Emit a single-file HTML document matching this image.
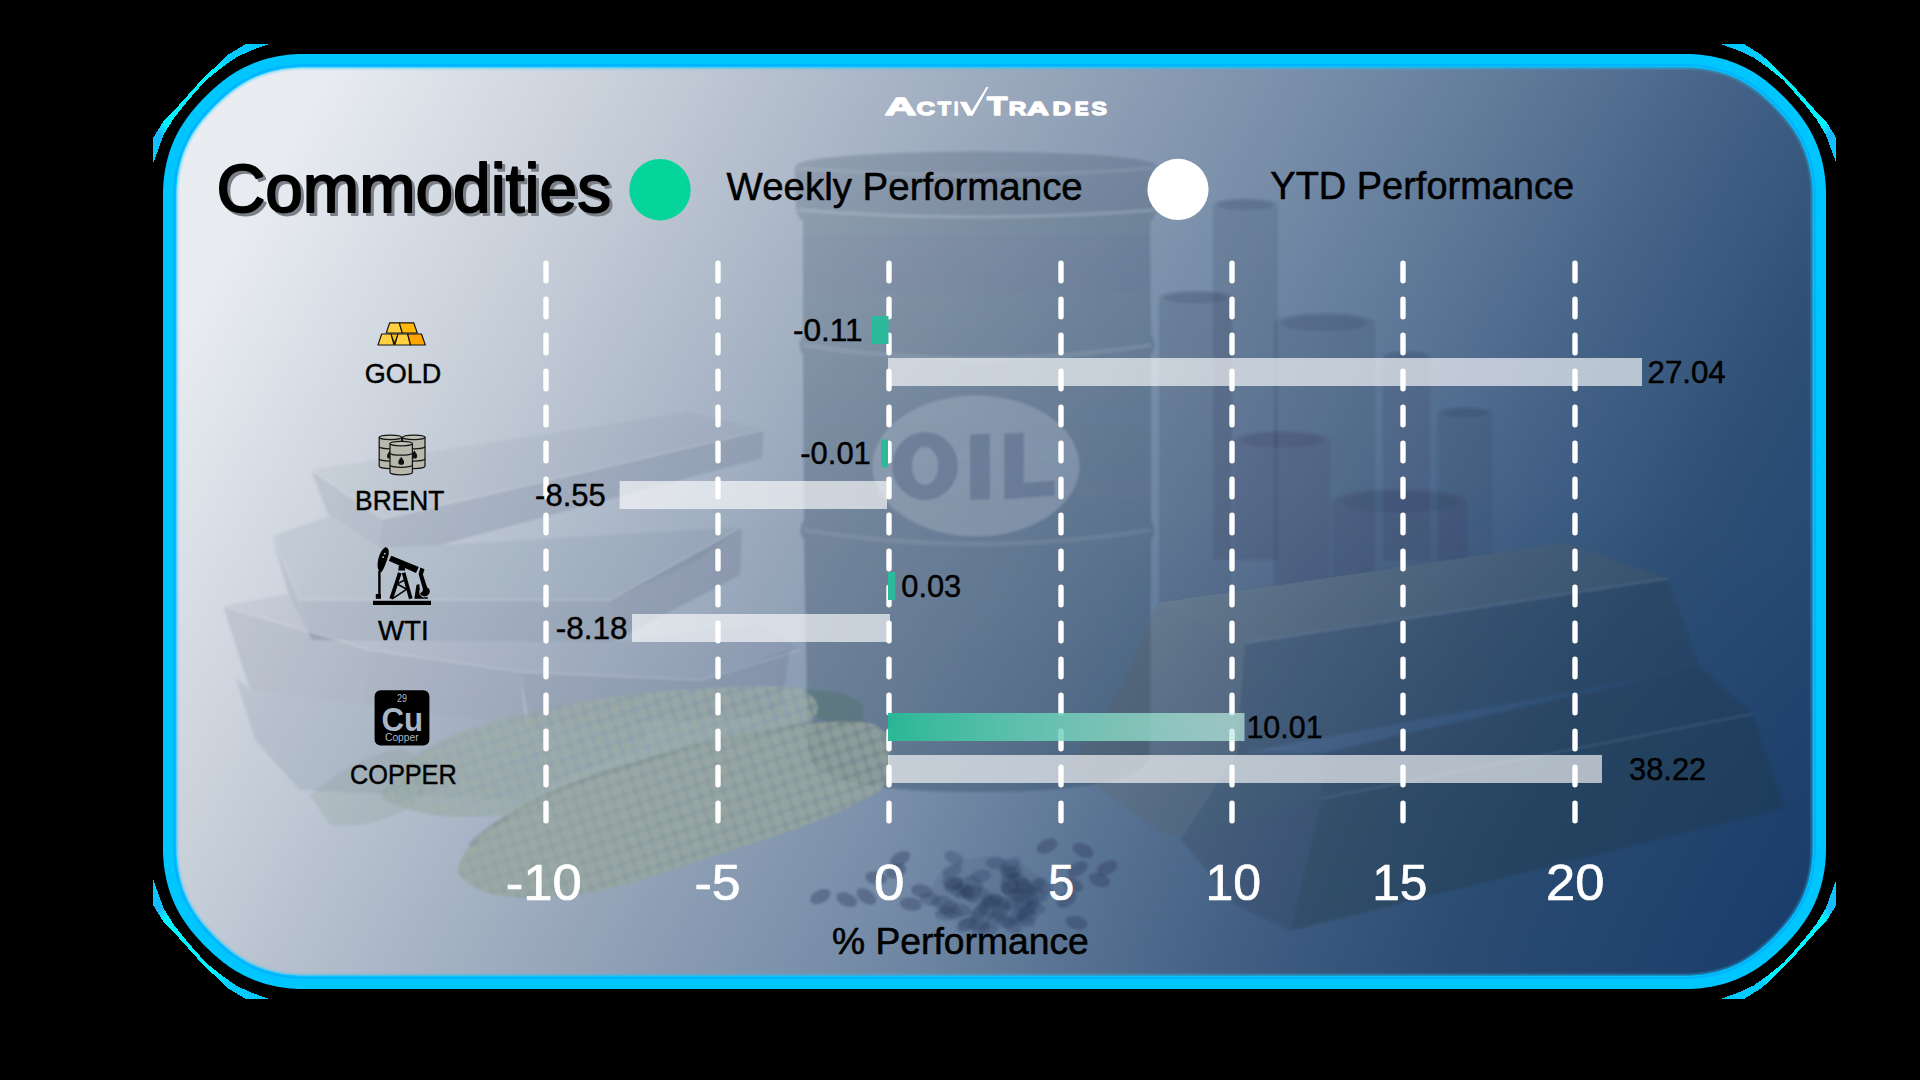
<!DOCTYPE html>
<html><head><meta charset="utf-8"><title>Commodities</title>
<style>
html,body{margin:0;padding:0;background:#000;}
body{width:1920px;height:1080px;overflow:hidden;font-family:"Liberation Sans",sans-serif;}
svg{display:block;position:absolute;left:0;top:0;}
text{font-family:"Liberation Sans",sans-serif;}
</style></head><body>
<svg width="1920" height="1080" viewBox="0 0 1920 1080">
<defs>
<linearGradient id="bg" gradientUnits="userSpaceOnUse" x1="200" y1="90" x2="1812.2" y2="976.7">
<stop offset="0" stop-color="#e9edf2"/>
<stop offset="0.057" stop-color="#e8ecf1"/>
<stop offset="0.214" stop-color="#c4ccd7"/>
<stop offset="0.39" stop-color="#98a7bb"/>
<stop offset="0.567" stop-color="#6e86a3"/>
<stop offset="0.743" stop-color="#415f84"/>
<stop offset="0.824" stop-color="#2e5076"/>
<stop offset="0.971" stop-color="#1c3f6d"/>
<stop offset="1" stop-color="#1a3c69"/>
</linearGradient>
<radialGradient id="shade" gradientUnits="userSpaceOnUse" cx="1430" cy="820" r="560" gradientTransform="translate(1430,820) scale(1,0.62) translate(-1430,-820)">
<stop offset="0" stop-color="#07244a" stop-opacity="0.13"/>
<stop offset="0.6" stop-color="#07244a" stop-opacity="0.07"/>
<stop offset="1" stop-color="#07244a" stop-opacity="0"/>
</radialGradient>
<clipPath id="inner"><path d="M176.50,194.09 L176.51,192.34 L176.54,190.69 L176.60,189.03 L176.67,187.38 L176.77,185.73 L176.89,184.08 L177.03,182.43 L177.19,180.78 L177.38,179.13 L177.58,177.49 L177.81,175.85 L178.06,174.22 L178.33,172.59 L178.62,170.96 L178.93,169.34 L179.27,167.73 L179.62,166.12 L180.00,164.51 L180.40,162.92 L180.82,161.33 L181.27,159.75 L181.73,158.18 L182.22,156.62 L182.73,155.07 L183.26,153.52 L183.82,151.99 L184.39,150.47 L184.99,148.96 L185.61,147.46 L186.25,145.97 L186.92,144.49 L187.60,143.03 L188.31,141.57 L189.05,140.13 L189.80,138.70 L190.58,137.28 L191.38,135.87 L192.20,134.47 L193.04,133.08 L193.91,131.70 L194.79,130.33 L195.70,128.98 L196.63,127.63 L197.57,126.29 L198.54,124.96 L199.53,123.64 L200.54,122.33 L201.56,121.03 L202.60,119.73 L203.66,118.45 L204.74,117.17 L205.83,115.90 L206.93,114.64 L208.05,113.38 L209.19,112.14 L210.33,110.90 L211.49,109.67 L212.66,108.45 L213.84,107.24 L215.04,106.04 L216.24,104.84 L217.45,103.66 L218.67,102.49 L219.90,101.33 L221.14,100.19 L222.38,99.05 L223.64,97.93 L224.90,96.83 L226.17,95.74 L227.45,94.66 L228.73,93.60 L230.03,92.56 L231.33,91.54 L232.64,90.53 L233.96,89.54 L235.29,88.57 L236.63,87.63 L237.98,86.70 L239.33,85.79 L240.70,84.91 L242.08,84.04 L243.47,83.20 L244.87,82.38 L246.28,81.58 L247.70,80.80 L249.13,80.05 L250.57,79.31 L252.03,78.60 L253.49,77.92 L254.97,77.25 L256.46,76.61 L257.96,75.99 L259.47,75.39 L260.99,74.82 L262.52,74.26 L264.07,73.73 L265.62,73.22 L267.18,72.73 L268.75,72.27 L270.33,71.82 L271.92,71.40 L273.51,71.00 L275.12,70.62 L276.73,70.27 L278.34,69.93 L279.96,69.62 L281.59,69.33 L283.22,69.06 L284.85,68.81 L286.49,68.58 L288.13,68.38 L289.78,68.19 L291.43,68.03 L293.08,67.89 L294.73,67.77 L296.38,67.67 L298.03,67.60 L299.69,67.54 L301.34,67.51 L303.09,67.50 L1685.91,67.50 L1687.66,67.51 L1689.31,67.54 L1690.97,67.60 L1692.62,67.67 L1694.27,67.77 L1695.92,67.89 L1697.57,68.03 L1699.22,68.19 L1700.87,68.38 L1702.51,68.58 L1704.15,68.81 L1705.78,69.06 L1707.41,69.33 L1709.04,69.62 L1710.66,69.93 L1712.27,70.27 L1713.88,70.62 L1715.49,71.00 L1717.08,71.40 L1718.67,71.82 L1720.25,72.27 L1721.82,72.73 L1723.38,73.22 L1724.93,73.73 L1726.48,74.26 L1728.01,74.82 L1729.53,75.39 L1731.04,75.99 L1732.54,76.61 L1734.03,77.25 L1735.51,77.92 L1736.97,78.60 L1738.43,79.31 L1739.87,80.05 L1741.30,80.80 L1742.72,81.58 L1744.13,82.38 L1745.53,83.20 L1746.92,84.04 L1748.30,84.91 L1749.67,85.79 L1751.02,86.70 L1752.37,87.63 L1753.71,88.57 L1755.04,89.54 L1756.36,90.53 L1757.67,91.54 L1758.97,92.56 L1760.27,93.60 L1761.55,94.66 L1762.83,95.74 L1764.10,96.83 L1765.36,97.93 L1766.62,99.05 L1767.86,100.19 L1769.10,101.33 L1770.33,102.49 L1771.55,103.66 L1772.76,104.84 L1773.96,106.04 L1775.16,107.24 L1776.34,108.45 L1777.51,109.67 L1778.67,110.90 L1779.81,112.14 L1780.95,113.38 L1782.07,114.64 L1783.17,115.90 L1784.26,117.17 L1785.34,118.45 L1786.40,119.73 L1787.44,121.03 L1788.46,122.33 L1789.47,123.64 L1790.46,124.96 L1791.43,126.29 L1792.37,127.63 L1793.30,128.98 L1794.21,130.33 L1795.09,131.70 L1795.96,133.08 L1796.80,134.47 L1797.62,135.87 L1798.42,137.28 L1799.20,138.70 L1799.95,140.13 L1800.69,141.57 L1801.40,143.03 L1802.08,144.49 L1802.75,145.97 L1803.39,147.46 L1804.01,148.96 L1804.61,150.47 L1805.18,151.99 L1805.74,153.52 L1806.27,155.07 L1806.78,156.62 L1807.27,158.18 L1807.73,159.75 L1808.18,161.33 L1808.60,162.92 L1809.00,164.51 L1809.38,166.12 L1809.73,167.73 L1810.07,169.34 L1810.38,170.96 L1810.67,172.59 L1810.94,174.22 L1811.19,175.85 L1811.42,177.49 L1811.62,179.13 L1811.81,180.78 L1811.97,182.43 L1812.11,184.08 L1812.23,185.73 L1812.33,187.38 L1812.40,189.03 L1812.46,190.69 L1812.49,192.34 L1812.50,194.09 L1812.50,848.91 L1812.49,850.66 L1812.46,852.31 L1812.40,853.97 L1812.33,855.62 L1812.23,857.27 L1812.11,858.92 L1811.97,860.57 L1811.81,862.22 L1811.62,863.87 L1811.42,865.51 L1811.19,867.15 L1810.94,868.78 L1810.67,870.41 L1810.38,872.04 L1810.07,873.66 L1809.73,875.27 L1809.38,876.88 L1809.00,878.49 L1808.60,880.08 L1808.18,881.67 L1807.73,883.25 L1807.27,884.82 L1806.78,886.38 L1806.27,887.93 L1805.74,889.48 L1805.18,891.01 L1804.61,892.53 L1804.01,894.04 L1803.39,895.54 L1802.75,897.03 L1802.08,898.51 L1801.40,899.97 L1800.69,901.43 L1799.95,902.87 L1799.20,904.30 L1798.42,905.72 L1797.62,907.13 L1796.80,908.53 L1795.96,909.92 L1795.09,911.30 L1794.21,912.67 L1793.30,914.02 L1792.37,915.37 L1791.43,916.71 L1790.46,918.04 L1789.47,919.36 L1788.46,920.67 L1787.44,921.97 L1786.40,923.27 L1785.34,924.55 L1784.26,925.83 L1783.17,927.10 L1782.07,928.36 L1780.95,929.62 L1779.81,930.86 L1778.67,932.10 L1777.51,933.33 L1776.34,934.55 L1775.16,935.76 L1773.96,936.96 L1772.76,938.16 L1771.55,939.34 L1770.33,940.51 L1769.10,941.67 L1767.86,942.81 L1766.62,943.95 L1765.36,945.07 L1764.10,946.17 L1762.83,947.26 L1761.55,948.34 L1760.27,949.40 L1758.97,950.44 L1757.67,951.46 L1756.36,952.47 L1755.04,953.46 L1753.71,954.43 L1752.37,955.37 L1751.02,956.30 L1749.67,957.21 L1748.30,958.09 L1746.92,958.96 L1745.53,959.80 L1744.13,960.62 L1742.72,961.42 L1741.30,962.20 L1739.87,962.95 L1738.43,963.69 L1736.97,964.40 L1735.51,965.08 L1734.03,965.75 L1732.54,966.39 L1731.04,967.01 L1729.53,967.61 L1728.01,968.18 L1726.48,968.74 L1724.93,969.27 L1723.38,969.78 L1721.82,970.27 L1720.25,970.73 L1718.67,971.18 L1717.08,971.60 L1715.49,972.00 L1713.88,972.38 L1712.27,972.73 L1710.66,973.07 L1709.04,973.38 L1707.41,973.67 L1705.78,973.94 L1704.15,974.19 L1702.51,974.42 L1700.87,974.62 L1699.22,974.81 L1697.57,974.97 L1695.92,975.11 L1694.27,975.23 L1692.62,975.33 L1690.97,975.40 L1689.31,975.46 L1687.66,975.49 L1685.91,975.50 L303.09,975.50 L301.34,975.49 L299.69,975.46 L298.03,975.40 L296.38,975.33 L294.73,975.23 L293.08,975.11 L291.43,974.97 L289.78,974.81 L288.13,974.62 L286.49,974.42 L284.85,974.19 L283.22,973.94 L281.59,973.67 L279.96,973.38 L278.34,973.07 L276.73,972.73 L275.12,972.38 L273.51,972.00 L271.92,971.60 L270.33,971.18 L268.75,970.73 L267.18,970.27 L265.62,969.78 L264.07,969.27 L262.52,968.74 L260.99,968.18 L259.47,967.61 L257.96,967.01 L256.46,966.39 L254.97,965.75 L253.49,965.08 L252.03,964.40 L250.57,963.69 L249.13,962.95 L247.70,962.20 L246.28,961.42 L244.87,960.62 L243.47,959.80 L242.08,958.96 L240.70,958.09 L239.33,957.21 L237.98,956.30 L236.63,955.37 L235.29,954.43 L233.96,953.46 L232.64,952.47 L231.33,951.46 L230.03,950.44 L228.73,949.40 L227.45,948.34 L226.17,947.26 L224.90,946.17 L223.64,945.07 L222.38,943.95 L221.14,942.81 L219.90,941.67 L218.67,940.51 L217.45,939.34 L216.24,938.16 L215.04,936.96 L213.84,935.76 L212.66,934.55 L211.49,933.33 L210.33,932.10 L209.19,930.86 L208.05,929.62 L206.93,928.36 L205.83,927.10 L204.74,925.83 L203.66,924.55 L202.60,923.27 L201.56,921.97 L200.54,920.67 L199.53,919.36 L198.54,918.04 L197.57,916.71 L196.63,915.37 L195.70,914.02 L194.79,912.67 L193.91,911.30 L193.04,909.92 L192.20,908.53 L191.38,907.13 L190.58,905.72 L189.80,904.30 L189.05,902.87 L188.31,901.43 L187.60,899.97 L186.92,898.51 L186.25,897.03 L185.61,895.54 L184.99,894.04 L184.39,892.53 L183.82,891.01 L183.26,889.48 L182.73,887.93 L182.22,886.38 L181.73,884.82 L181.27,883.25 L180.82,881.67 L180.40,880.08 L180.00,878.49 L179.62,876.88 L179.27,875.27 L178.93,873.66 L178.62,872.04 L178.33,870.41 L178.06,868.78 L177.81,867.15 L177.58,865.51 L177.38,863.87 L177.19,862.22 L177.03,860.57 L176.89,858.92 L176.77,857.27 L176.67,855.62 L176.60,853.97 L176.54,852.31 L176.51,850.66 L176.50,848.91 Z"/></clipPath>
<linearGradient id="gbar" x1="0" y1="0" x2="1" y2="0">
<stop offset="0" stop-color="#27b896" stop-opacity="0.97"/>
<stop offset="1" stop-color="#c0eee3" stop-opacity="0.68"/>
</linearGradient>
<filter id="b2"><feGaussianBlur stdDeviation="2"/></filter>
<filter id="b4"><feGaussianBlur stdDeviation="4"/></filter>
<filter id="b1"><feGaussianBlur stdDeviation="1"/></filter>
</defs>

<defs><linearGradient id="slv" gradientUnits="userSpaceOnUse" x1="262" y1="44" x2="153" y2="155"><stop offset="0" stop-color="#00c8ff"/><stop offset="0.22" stop-color="#00ccff"/><stop offset="0.32" stop-color="#00f4ff"/><stop offset="0.8" stop-color="#00f4ff"/><stop offset="0.88" stop-color="#1cb4ff"/><stop offset="1" stop-color="#00d0ff"/></linearGradient></defs>
<g fill="url(#slv)" shape-rendering="crispEdges">
<path d="M245.7,44.0 L227.6,55.0 L214.4,67.7 L202.4,79.1 L190.3,92.4 L175.3,109.2 L163.8,120.8 L153.4,137.5 L153.4,162.8 L163.8,134.5 L173.4,118.8 L184.3,105.0 L195.1,92.4 L206.0,80.3 L221.6,67.7 L236.1,57.4 L251.7,50.2 L269.2,44.0 Z"/>
<path d="M245.7,44.0 L227.6,55.0 L214.4,67.7 L202.4,79.1 L190.3,92.4 L175.3,109.2 L163.8,120.8 L153.4,137.5 L153.4,162.8 L163.8,134.5 L173.4,118.8 L184.3,105.0 L195.1,92.4 L206.0,80.3 L221.6,67.7 L236.1,57.4 L251.7,50.2 L269.2,44.0 Z" transform="translate(1989.5,0) scale(-1,1)"/>
<path d="M245.7,44.0 L227.6,55.0 L214.4,67.7 L202.4,79.1 L190.3,92.4 L175.3,109.2 L163.8,120.8 L153.4,137.5 L153.4,162.8 L163.8,134.5 L173.4,118.8 L184.3,105.0 L195.1,92.4 L206.0,80.3 L221.6,67.7 L236.1,57.4 L251.7,50.2 L269.2,44.0 Z" transform="translate(0,1043) scale(1,-1)"/>
<path d="M245.7,44.0 L227.6,55.0 L214.4,67.7 L202.4,79.1 L190.3,92.4 L175.3,109.2 L163.8,120.8 L153.4,137.5 L153.4,162.8 L163.8,134.5 L173.4,118.8 L184.3,105.0 L195.1,92.4 L206.0,80.3 L221.6,67.7 L236.1,57.4 L251.7,50.2 L269.2,44.0 Z" transform="translate(1989.5,1043) scale(-1,-1)"/>
</g>
<path d="M163.00,194.00 L163.01,192.17 L163.05,190.34 L163.11,188.50 L163.19,186.67 L163.30,184.84 L163.43,183.02 L163.59,181.19 L163.77,179.37 L163.97,177.54 L164.20,175.73 L164.45,173.91 L164.73,172.10 L165.03,170.29 L165.35,168.49 L165.70,166.69 L166.07,164.89 L166.47,163.11 L166.89,161.32 L167.33,159.54 L167.80,157.77 L168.30,156.01 L168.82,154.25 L169.36,152.50 L169.93,150.76 L170.53,149.03 L171.15,147.31 L171.80,145.60 L172.47,143.90 L173.17,142.20 L173.90,140.52 L174.65,138.86 L175.43,137.20 L176.23,135.56 L177.06,133.93 L177.91,132.31 L178.78,130.71 L179.68,129.12 L180.61,127.55 L181.55,125.99 L182.52,124.44 L183.51,122.91 L184.53,121.40 L185.56,119.90 L186.61,118.42 L187.68,116.95 L188.77,115.49 L189.87,114.05 L190.99,112.62 L192.13,111.21 L193.28,109.81 L194.45,108.43 L195.63,107.05 L196.82,105.69 L198.03,104.34 L199.24,103.01 L200.47,101.68 L201.71,100.37 L202.96,99.06 L204.22,97.77 L205.49,96.49 L206.77,95.22 L208.06,93.96 L209.37,92.71 L210.68,91.47 L212.01,90.24 L213.34,89.03 L214.69,87.82 L216.05,86.63 L217.43,85.45 L218.81,84.28 L220.21,83.13 L221.62,81.99 L223.05,80.87 L224.49,79.77 L225.95,78.68 L227.42,77.61 L228.90,76.56 L230.40,75.53 L231.91,74.51 L233.44,73.52 L234.99,72.55 L236.55,71.61 L238.12,70.68 L239.71,69.78 L241.31,68.91 L242.93,68.06 L244.56,67.23 L246.20,66.43 L247.86,65.65 L249.52,64.90 L251.20,64.17 L252.90,63.47 L254.60,62.80 L256.31,62.15 L258.03,61.53 L259.76,60.93 L261.50,60.36 L263.25,59.82 L265.01,59.30 L266.77,58.80 L268.54,58.33 L270.32,57.89 L272.11,57.47 L273.89,57.07 L275.69,56.70 L277.49,56.35 L279.29,56.03 L281.10,55.73 L282.91,55.45 L284.73,55.20 L286.54,54.97 L288.37,54.77 L290.19,54.59 L292.02,54.43 L293.84,54.30 L295.67,54.19 L297.50,54.11 L299.34,54.05 L301.17,54.01 L303.00,54.00 L1686.00,54.00 L1687.83,54.01 L1689.66,54.05 L1691.50,54.11 L1693.33,54.19 L1695.16,54.30 L1696.98,54.43 L1698.81,54.59 L1700.63,54.77 L1702.46,54.97 L1704.27,55.20 L1706.09,55.45 L1707.90,55.73 L1709.71,56.03 L1711.51,56.35 L1713.31,56.70 L1715.11,57.07 L1716.89,57.47 L1718.68,57.89 L1720.46,58.33 L1722.23,58.80 L1723.99,59.30 L1725.75,59.82 L1727.50,60.36 L1729.24,60.93 L1730.97,61.53 L1732.69,62.15 L1734.40,62.80 L1736.10,63.47 L1737.80,64.17 L1739.48,64.90 L1741.14,65.65 L1742.80,66.43 L1744.44,67.23 L1746.07,68.06 L1747.69,68.91 L1749.29,69.78 L1750.88,70.68 L1752.45,71.61 L1754.01,72.55 L1755.56,73.52 L1757.09,74.51 L1758.60,75.53 L1760.10,76.56 L1761.58,77.61 L1763.05,78.68 L1764.51,79.77 L1765.95,80.87 L1767.38,81.99 L1768.79,83.13 L1770.19,84.28 L1771.57,85.45 L1772.95,86.63 L1774.31,87.82 L1775.66,89.03 L1776.99,90.24 L1778.32,91.47 L1779.63,92.71 L1780.94,93.96 L1782.23,95.22 L1783.51,96.49 L1784.78,97.77 L1786.04,99.06 L1787.29,100.37 L1788.53,101.68 L1789.76,103.01 L1790.97,104.34 L1792.18,105.69 L1793.37,107.05 L1794.55,108.43 L1795.72,109.81 L1796.87,111.21 L1798.01,112.62 L1799.13,114.05 L1800.23,115.49 L1801.32,116.95 L1802.39,118.42 L1803.44,119.90 L1804.47,121.40 L1805.49,122.91 L1806.48,124.44 L1807.45,125.99 L1808.39,127.55 L1809.32,129.12 L1810.22,130.71 L1811.09,132.31 L1811.94,133.93 L1812.77,135.56 L1813.57,137.20 L1814.35,138.86 L1815.10,140.52 L1815.83,142.20 L1816.53,143.90 L1817.20,145.60 L1817.85,147.31 L1818.47,149.03 L1819.07,150.76 L1819.64,152.50 L1820.18,154.25 L1820.70,156.01 L1821.20,157.77 L1821.67,159.54 L1822.11,161.32 L1822.53,163.11 L1822.93,164.89 L1823.30,166.69 L1823.65,168.49 L1823.97,170.29 L1824.27,172.10 L1824.55,173.91 L1824.80,175.73 L1825.03,177.54 L1825.23,179.37 L1825.41,181.19 L1825.57,183.02 L1825.70,184.84 L1825.81,186.67 L1825.89,188.50 L1825.95,190.34 L1825.99,192.17 L1826.00,194.00 L1826.00,849.00 L1825.99,850.83 L1825.95,852.66 L1825.89,854.50 L1825.81,856.33 L1825.70,858.16 L1825.57,859.98 L1825.41,861.81 L1825.23,863.63 L1825.03,865.46 L1824.80,867.27 L1824.55,869.09 L1824.27,870.90 L1823.97,872.71 L1823.65,874.51 L1823.30,876.31 L1822.93,878.11 L1822.53,879.89 L1822.11,881.68 L1821.67,883.46 L1821.20,885.23 L1820.70,886.99 L1820.18,888.75 L1819.64,890.50 L1819.07,892.24 L1818.47,893.97 L1817.85,895.69 L1817.20,897.40 L1816.53,899.10 L1815.83,900.80 L1815.10,902.48 L1814.35,904.14 L1813.57,905.80 L1812.77,907.44 L1811.94,909.07 L1811.09,910.69 L1810.22,912.29 L1809.32,913.88 L1808.39,915.45 L1807.45,917.01 L1806.48,918.56 L1805.49,920.09 L1804.47,921.60 L1803.44,923.10 L1802.39,924.58 L1801.32,926.05 L1800.23,927.51 L1799.13,928.95 L1798.01,930.38 L1796.87,931.79 L1795.72,933.19 L1794.55,934.57 L1793.37,935.95 L1792.18,937.31 L1790.97,938.66 L1789.76,939.99 L1788.53,941.32 L1787.29,942.63 L1786.04,943.94 L1784.78,945.23 L1783.51,946.51 L1782.23,947.78 L1780.94,949.04 L1779.63,950.29 L1778.32,951.53 L1776.99,952.76 L1775.66,953.97 L1774.31,955.18 L1772.95,956.37 L1771.57,957.55 L1770.19,958.72 L1768.79,959.87 L1767.38,961.01 L1765.95,962.13 L1764.51,963.23 L1763.05,964.32 L1761.58,965.39 L1760.10,966.44 L1758.60,967.47 L1757.09,968.49 L1755.56,969.48 L1754.01,970.45 L1752.45,971.39 L1750.88,972.32 L1749.29,973.22 L1747.69,974.09 L1746.07,974.94 L1744.44,975.77 L1742.80,976.57 L1741.14,977.35 L1739.48,978.10 L1737.80,978.83 L1736.10,979.53 L1734.40,980.20 L1732.69,980.85 L1730.97,981.47 L1729.24,982.07 L1727.50,982.64 L1725.75,983.18 L1723.99,983.70 L1722.23,984.20 L1720.46,984.67 L1718.68,985.11 L1716.89,985.53 L1715.11,985.93 L1713.31,986.30 L1711.51,986.65 L1709.71,986.97 L1707.90,987.27 L1706.09,987.55 L1704.27,987.80 L1702.46,988.03 L1700.63,988.23 L1698.81,988.41 L1696.98,988.57 L1695.16,988.70 L1693.33,988.81 L1691.50,988.89 L1689.66,988.95 L1687.83,988.99 L1686.00,989.00 L303.00,989.00 L301.17,988.99 L299.34,988.95 L297.50,988.89 L295.67,988.81 L293.84,988.70 L292.02,988.57 L290.19,988.41 L288.37,988.23 L286.54,988.03 L284.73,987.80 L282.91,987.55 L281.10,987.27 L279.29,986.97 L277.49,986.65 L275.69,986.30 L273.89,985.93 L272.11,985.53 L270.32,985.11 L268.54,984.67 L266.77,984.20 L265.01,983.70 L263.25,983.18 L261.50,982.64 L259.76,982.07 L258.03,981.47 L256.31,980.85 L254.60,980.20 L252.90,979.53 L251.20,978.83 L249.52,978.10 L247.86,977.35 L246.20,976.57 L244.56,975.77 L242.93,974.94 L241.31,974.09 L239.71,973.22 L238.12,972.32 L236.55,971.39 L234.99,970.45 L233.44,969.48 L231.91,968.49 L230.40,967.47 L228.90,966.44 L227.42,965.39 L225.95,964.32 L224.49,963.23 L223.05,962.13 L221.62,961.01 L220.21,959.87 L218.81,958.72 L217.43,957.55 L216.05,956.37 L214.69,955.18 L213.34,953.97 L212.01,952.76 L210.68,951.53 L209.37,950.29 L208.06,949.04 L206.77,947.78 L205.49,946.51 L204.22,945.23 L202.96,943.94 L201.71,942.63 L200.47,941.32 L199.24,939.99 L198.03,938.66 L196.82,937.31 L195.63,935.95 L194.45,934.57 L193.28,933.19 L192.13,931.79 L190.99,930.38 L189.87,928.95 L188.77,927.51 L187.68,926.05 L186.61,924.58 L185.56,923.10 L184.53,921.60 L183.51,920.09 L182.52,918.56 L181.55,917.01 L180.61,915.45 L179.68,913.88 L178.78,912.29 L177.91,910.69 L177.06,909.07 L176.23,907.44 L175.43,905.80 L174.65,904.14 L173.90,902.48 L173.17,900.80 L172.47,899.10 L171.80,897.40 L171.15,895.69 L170.53,893.97 L169.93,892.24 L169.36,890.50 L168.82,888.75 L168.30,886.99 L167.80,885.23 L167.33,883.46 L166.89,881.68 L166.47,879.89 L166.07,878.11 L165.70,876.31 L165.35,874.51 L165.03,872.71 L164.73,870.90 L164.45,869.09 L164.20,867.27 L163.97,865.46 L163.77,863.63 L163.59,861.81 L163.43,859.98 L163.30,858.16 L163.19,856.33 L163.11,854.50 L163.05,852.66 L163.01,850.83 L163.00,849.00 Z" fill="#00c6ff"/>
<path d="M174.20,194.07 L174.21,192.31 L174.24,190.63 L174.30,188.94 L174.38,187.26 L174.48,185.58 L174.60,183.89 L174.74,182.22 L174.91,180.54 L175.09,178.86 L175.30,177.19 L175.53,175.52 L175.79,173.86 L176.06,172.20 L176.36,170.54 L176.68,168.89 L177.02,167.24 L177.38,165.60 L177.77,163.97 L178.18,162.34 L178.61,160.73 L179.06,159.11 L179.53,157.51 L180.03,155.92 L180.55,154.33 L181.09,152.76 L181.66,151.20 L182.25,149.64 L182.86,148.10 L183.49,146.56 L184.15,145.04 L184.83,143.53 L185.53,142.03 L186.26,140.55 L187.00,139.07 L187.78,137.61 L188.57,136.16 L189.39,134.72 L190.22,133.29 L191.08,131.87 L191.97,130.46 L192.87,129.07 L193.80,127.69 L194.74,126.31 L195.71,124.95 L196.69,123.60 L197.70,122.25 L198.72,120.92 L199.76,119.60 L200.82,118.28 L201.89,116.98 L202.98,115.68 L204.09,114.39 L205.21,113.11 L206.34,111.84 L207.49,110.58 L208.65,109.33 L209.83,108.08 L211.01,106.85 L212.20,105.63 L213.41,104.41 L214.63,103.20 L215.85,102.01 L217.08,100.83 L218.33,99.65 L219.58,98.49 L220.84,97.34 L222.11,96.21 L223.39,95.09 L224.68,93.98 L225.98,92.89 L227.28,91.82 L228.60,90.76 L229.92,89.72 L231.25,88.70 L232.60,87.69 L233.95,86.71 L235.31,85.74 L236.69,84.80 L238.07,83.87 L239.46,82.97 L240.87,82.08 L242.29,81.22 L243.72,80.39 L245.16,79.57 L246.61,78.78 L248.07,78.00 L249.55,77.26 L251.03,76.53 L252.53,75.83 L254.04,75.15 L255.56,74.49 L257.10,73.86 L258.64,73.25 L260.20,72.66 L261.76,72.09 L263.33,71.55 L264.92,71.03 L266.51,70.53 L268.11,70.06 L269.73,69.61 L271.34,69.18 L272.97,68.77 L274.60,68.38 L276.24,68.02 L277.89,67.68 L279.54,67.36 L281.20,67.06 L282.86,66.79 L284.52,66.53 L286.19,66.30 L287.86,66.09 L289.54,65.91 L291.22,65.74 L292.89,65.60 L294.58,65.48 L296.26,65.38 L297.94,65.30 L299.63,65.24 L301.31,65.21 L303.07,65.20 L1685.93,65.20 L1687.69,65.21 L1689.37,65.24 L1691.06,65.30 L1692.74,65.38 L1694.42,65.48 L1696.11,65.60 L1697.78,65.74 L1699.46,65.91 L1701.14,66.09 L1702.81,66.30 L1704.48,66.53 L1706.14,66.79 L1707.80,67.06 L1709.46,67.36 L1711.11,67.68 L1712.76,68.02 L1714.40,68.38 L1716.03,68.77 L1717.66,69.18 L1719.27,69.61 L1720.89,70.06 L1722.49,70.53 L1724.08,71.03 L1725.67,71.55 L1727.24,72.09 L1728.80,72.66 L1730.36,73.25 L1731.90,73.86 L1733.44,74.49 L1734.96,75.15 L1736.47,75.83 L1737.97,76.53 L1739.45,77.26 L1740.93,78.00 L1742.39,78.78 L1743.84,79.57 L1745.28,80.39 L1746.71,81.22 L1748.13,82.08 L1749.54,82.97 L1750.93,83.87 L1752.31,84.80 L1753.69,85.74 L1755.05,86.71 L1756.40,87.69 L1757.75,88.70 L1759.08,89.72 L1760.40,90.76 L1761.72,91.82 L1763.02,92.89 L1764.32,93.98 L1765.61,95.09 L1766.89,96.21 L1768.16,97.34 L1769.42,98.49 L1770.67,99.65 L1771.92,100.83 L1773.15,102.01 L1774.37,103.20 L1775.59,104.41 L1776.80,105.63 L1777.99,106.85 L1779.17,108.08 L1780.35,109.33 L1781.51,110.58 L1782.66,111.84 L1783.79,113.11 L1784.91,114.39 L1786.02,115.68 L1787.11,116.98 L1788.18,118.28 L1789.24,119.60 L1790.28,120.92 L1791.30,122.25 L1792.31,123.60 L1793.29,124.95 L1794.26,126.31 L1795.20,127.69 L1796.13,129.07 L1797.03,130.46 L1797.92,131.87 L1798.78,133.29 L1799.61,134.72 L1800.43,136.16 L1801.22,137.61 L1802.00,139.07 L1802.74,140.55 L1803.47,142.03 L1804.17,143.53 L1804.85,145.04 L1805.51,146.56 L1806.14,148.10 L1806.75,149.64 L1807.34,151.20 L1807.91,152.76 L1808.45,154.33 L1808.97,155.92 L1809.47,157.51 L1809.94,159.11 L1810.39,160.73 L1810.82,162.34 L1811.23,163.97 L1811.62,165.60 L1811.98,167.24 L1812.32,168.89 L1812.64,170.54 L1812.94,172.20 L1813.21,173.86 L1813.47,175.52 L1813.70,177.19 L1813.91,178.86 L1814.09,180.54 L1814.26,182.22 L1814.40,183.89 L1814.52,185.58 L1814.62,187.26 L1814.70,188.94 L1814.76,190.63 L1814.79,192.31 L1814.80,194.07 L1814.80,848.93 L1814.79,850.69 L1814.76,852.37 L1814.70,854.06 L1814.62,855.74 L1814.52,857.42 L1814.40,859.11 L1814.26,860.78 L1814.09,862.46 L1813.91,864.14 L1813.70,865.81 L1813.47,867.48 L1813.21,869.14 L1812.94,870.80 L1812.64,872.46 L1812.32,874.11 L1811.98,875.76 L1811.62,877.40 L1811.23,879.03 L1810.82,880.66 L1810.39,882.27 L1809.94,883.89 L1809.47,885.49 L1808.97,887.08 L1808.45,888.67 L1807.91,890.24 L1807.34,891.80 L1806.75,893.36 L1806.14,894.90 L1805.51,896.44 L1804.85,897.96 L1804.17,899.47 L1803.47,900.97 L1802.74,902.45 L1802.00,903.93 L1801.22,905.39 L1800.43,906.84 L1799.61,908.28 L1798.78,909.71 L1797.92,911.13 L1797.03,912.54 L1796.13,913.93 L1795.20,915.31 L1794.26,916.69 L1793.29,918.05 L1792.31,919.40 L1791.30,920.75 L1790.28,922.08 L1789.24,923.40 L1788.18,924.72 L1787.11,926.02 L1786.02,927.32 L1784.91,928.61 L1783.79,929.89 L1782.66,931.16 L1781.51,932.42 L1780.35,933.67 L1779.17,934.92 L1777.99,936.15 L1776.80,937.37 L1775.59,938.59 L1774.37,939.80 L1773.15,940.99 L1771.92,942.17 L1770.67,943.35 L1769.42,944.51 L1768.16,945.66 L1766.89,946.79 L1765.61,947.91 L1764.32,949.02 L1763.02,950.11 L1761.72,951.18 L1760.40,952.24 L1759.08,953.28 L1757.75,954.30 L1756.40,955.31 L1755.05,956.29 L1753.69,957.26 L1752.31,958.20 L1750.93,959.13 L1749.54,960.03 L1748.13,960.92 L1746.71,961.78 L1745.28,962.61 L1743.84,963.43 L1742.39,964.22 L1740.93,965.00 L1739.45,965.74 L1737.97,966.47 L1736.47,967.17 L1734.96,967.85 L1733.44,968.51 L1731.90,969.14 L1730.36,969.75 L1728.80,970.34 L1727.24,970.91 L1725.67,971.45 L1724.08,971.97 L1722.49,972.47 L1720.89,972.94 L1719.27,973.39 L1717.66,973.82 L1716.03,974.23 L1714.40,974.62 L1712.76,974.98 L1711.11,975.32 L1709.46,975.64 L1707.80,975.94 L1706.14,976.21 L1704.48,976.47 L1702.81,976.70 L1701.14,976.91 L1699.46,977.09 L1697.78,977.26 L1696.11,977.40 L1694.42,977.52 L1692.74,977.62 L1691.06,977.70 L1689.37,977.76 L1687.69,977.79 L1685.93,977.80 L303.07,977.80 L301.31,977.79 L299.63,977.76 L297.94,977.70 L296.26,977.62 L294.58,977.52 L292.89,977.40 L291.22,977.26 L289.54,977.09 L287.86,976.91 L286.19,976.70 L284.52,976.47 L282.86,976.21 L281.20,975.94 L279.54,975.64 L277.89,975.32 L276.24,974.98 L274.60,974.62 L272.97,974.23 L271.34,973.82 L269.73,973.39 L268.11,972.94 L266.51,972.47 L264.92,971.97 L263.33,971.45 L261.76,970.91 L260.20,970.34 L258.64,969.75 L257.10,969.14 L255.56,968.51 L254.04,967.85 L252.53,967.17 L251.03,966.47 L249.55,965.74 L248.07,965.00 L246.61,964.22 L245.16,963.43 L243.72,962.61 L242.29,961.78 L240.87,960.92 L239.46,960.03 L238.07,959.13 L236.69,958.20 L235.31,957.26 L233.95,956.29 L232.60,955.31 L231.25,954.30 L229.92,953.28 L228.60,952.24 L227.28,951.18 L225.98,950.11 L224.68,949.02 L223.39,947.91 L222.11,946.79 L220.84,945.66 L219.58,944.51 L218.33,943.35 L217.08,942.17 L215.85,940.99 L214.63,939.80 L213.41,938.59 L212.20,937.37 L211.01,936.15 L209.83,934.92 L208.65,933.67 L207.49,932.42 L206.34,931.16 L205.21,929.89 L204.09,928.61 L202.98,927.32 L201.89,926.02 L200.82,924.72 L199.76,923.40 L198.72,922.08 L197.70,920.75 L196.69,919.40 L195.71,918.05 L194.74,916.69 L193.80,915.31 L192.87,913.93 L191.97,912.54 L191.08,911.13 L190.22,909.71 L189.39,908.28 L188.57,906.84 L187.78,905.39 L187.00,903.93 L186.26,902.45 L185.53,900.97 L184.83,899.47 L184.15,897.96 L183.49,896.44 L182.86,894.90 L182.25,893.36 L181.66,891.80 L181.09,890.24 L180.55,888.67 L180.03,887.08 L179.53,885.49 L179.06,883.89 L178.61,882.27 L178.18,880.66 L177.77,879.03 L177.38,877.40 L177.02,875.76 L176.68,874.11 L176.36,872.46 L176.06,870.80 L175.79,869.14 L175.53,867.48 L175.30,865.81 L175.09,864.14 L174.91,862.46 L174.74,860.78 L174.60,859.11 L174.48,857.42 L174.38,855.74 L174.30,854.06 L174.24,852.37 L174.21,850.69 L174.20,848.93 Z" fill="none" stroke="#00b0ff" stroke-width="1.8"/>
<path d="M176.50,194.09 L176.51,192.34 L176.54,190.69 L176.60,189.03 L176.67,187.38 L176.77,185.73 L176.89,184.08 L177.03,182.43 L177.19,180.78 L177.38,179.13 L177.58,177.49 L177.81,175.85 L178.06,174.22 L178.33,172.59 L178.62,170.96 L178.93,169.34 L179.27,167.73 L179.62,166.12 L180.00,164.51 L180.40,162.92 L180.82,161.33 L181.27,159.75 L181.73,158.18 L182.22,156.62 L182.73,155.07 L183.26,153.52 L183.82,151.99 L184.39,150.47 L184.99,148.96 L185.61,147.46 L186.25,145.97 L186.92,144.49 L187.60,143.03 L188.31,141.57 L189.05,140.13 L189.80,138.70 L190.58,137.28 L191.38,135.87 L192.20,134.47 L193.04,133.08 L193.91,131.70 L194.79,130.33 L195.70,128.98 L196.63,127.63 L197.57,126.29 L198.54,124.96 L199.53,123.64 L200.54,122.33 L201.56,121.03 L202.60,119.73 L203.66,118.45 L204.74,117.17 L205.83,115.90 L206.93,114.64 L208.05,113.38 L209.19,112.14 L210.33,110.90 L211.49,109.67 L212.66,108.45 L213.84,107.24 L215.04,106.04 L216.24,104.84 L217.45,103.66 L218.67,102.49 L219.90,101.33 L221.14,100.19 L222.38,99.05 L223.64,97.93 L224.90,96.83 L226.17,95.74 L227.45,94.66 L228.73,93.60 L230.03,92.56 L231.33,91.54 L232.64,90.53 L233.96,89.54 L235.29,88.57 L236.63,87.63 L237.98,86.70 L239.33,85.79 L240.70,84.91 L242.08,84.04 L243.47,83.20 L244.87,82.38 L246.28,81.58 L247.70,80.80 L249.13,80.05 L250.57,79.31 L252.03,78.60 L253.49,77.92 L254.97,77.25 L256.46,76.61 L257.96,75.99 L259.47,75.39 L260.99,74.82 L262.52,74.26 L264.07,73.73 L265.62,73.22 L267.18,72.73 L268.75,72.27 L270.33,71.82 L271.92,71.40 L273.51,71.00 L275.12,70.62 L276.73,70.27 L278.34,69.93 L279.96,69.62 L281.59,69.33 L283.22,69.06 L284.85,68.81 L286.49,68.58 L288.13,68.38 L289.78,68.19 L291.43,68.03 L293.08,67.89 L294.73,67.77 L296.38,67.67 L298.03,67.60 L299.69,67.54 L301.34,67.51 L303.09,67.50 L1685.91,67.50 L1687.66,67.51 L1689.31,67.54 L1690.97,67.60 L1692.62,67.67 L1694.27,67.77 L1695.92,67.89 L1697.57,68.03 L1699.22,68.19 L1700.87,68.38 L1702.51,68.58 L1704.15,68.81 L1705.78,69.06 L1707.41,69.33 L1709.04,69.62 L1710.66,69.93 L1712.27,70.27 L1713.88,70.62 L1715.49,71.00 L1717.08,71.40 L1718.67,71.82 L1720.25,72.27 L1721.82,72.73 L1723.38,73.22 L1724.93,73.73 L1726.48,74.26 L1728.01,74.82 L1729.53,75.39 L1731.04,75.99 L1732.54,76.61 L1734.03,77.25 L1735.51,77.92 L1736.97,78.60 L1738.43,79.31 L1739.87,80.05 L1741.30,80.80 L1742.72,81.58 L1744.13,82.38 L1745.53,83.20 L1746.92,84.04 L1748.30,84.91 L1749.67,85.79 L1751.02,86.70 L1752.37,87.63 L1753.71,88.57 L1755.04,89.54 L1756.36,90.53 L1757.67,91.54 L1758.97,92.56 L1760.27,93.60 L1761.55,94.66 L1762.83,95.74 L1764.10,96.83 L1765.36,97.93 L1766.62,99.05 L1767.86,100.19 L1769.10,101.33 L1770.33,102.49 L1771.55,103.66 L1772.76,104.84 L1773.96,106.04 L1775.16,107.24 L1776.34,108.45 L1777.51,109.67 L1778.67,110.90 L1779.81,112.14 L1780.95,113.38 L1782.07,114.64 L1783.17,115.90 L1784.26,117.17 L1785.34,118.45 L1786.40,119.73 L1787.44,121.03 L1788.46,122.33 L1789.47,123.64 L1790.46,124.96 L1791.43,126.29 L1792.37,127.63 L1793.30,128.98 L1794.21,130.33 L1795.09,131.70 L1795.96,133.08 L1796.80,134.47 L1797.62,135.87 L1798.42,137.28 L1799.20,138.70 L1799.95,140.13 L1800.69,141.57 L1801.40,143.03 L1802.08,144.49 L1802.75,145.97 L1803.39,147.46 L1804.01,148.96 L1804.61,150.47 L1805.18,151.99 L1805.74,153.52 L1806.27,155.07 L1806.78,156.62 L1807.27,158.18 L1807.73,159.75 L1808.18,161.33 L1808.60,162.92 L1809.00,164.51 L1809.38,166.12 L1809.73,167.73 L1810.07,169.34 L1810.38,170.96 L1810.67,172.59 L1810.94,174.22 L1811.19,175.85 L1811.42,177.49 L1811.62,179.13 L1811.81,180.78 L1811.97,182.43 L1812.11,184.08 L1812.23,185.73 L1812.33,187.38 L1812.40,189.03 L1812.46,190.69 L1812.49,192.34 L1812.50,194.09 L1812.50,848.91 L1812.49,850.66 L1812.46,852.31 L1812.40,853.97 L1812.33,855.62 L1812.23,857.27 L1812.11,858.92 L1811.97,860.57 L1811.81,862.22 L1811.62,863.87 L1811.42,865.51 L1811.19,867.15 L1810.94,868.78 L1810.67,870.41 L1810.38,872.04 L1810.07,873.66 L1809.73,875.27 L1809.38,876.88 L1809.00,878.49 L1808.60,880.08 L1808.18,881.67 L1807.73,883.25 L1807.27,884.82 L1806.78,886.38 L1806.27,887.93 L1805.74,889.48 L1805.18,891.01 L1804.61,892.53 L1804.01,894.04 L1803.39,895.54 L1802.75,897.03 L1802.08,898.51 L1801.40,899.97 L1800.69,901.43 L1799.95,902.87 L1799.20,904.30 L1798.42,905.72 L1797.62,907.13 L1796.80,908.53 L1795.96,909.92 L1795.09,911.30 L1794.21,912.67 L1793.30,914.02 L1792.37,915.37 L1791.43,916.71 L1790.46,918.04 L1789.47,919.36 L1788.46,920.67 L1787.44,921.97 L1786.40,923.27 L1785.34,924.55 L1784.26,925.83 L1783.17,927.10 L1782.07,928.36 L1780.95,929.62 L1779.81,930.86 L1778.67,932.10 L1777.51,933.33 L1776.34,934.55 L1775.16,935.76 L1773.96,936.96 L1772.76,938.16 L1771.55,939.34 L1770.33,940.51 L1769.10,941.67 L1767.86,942.81 L1766.62,943.95 L1765.36,945.07 L1764.10,946.17 L1762.83,947.26 L1761.55,948.34 L1760.27,949.40 L1758.97,950.44 L1757.67,951.46 L1756.36,952.47 L1755.04,953.46 L1753.71,954.43 L1752.37,955.37 L1751.02,956.30 L1749.67,957.21 L1748.30,958.09 L1746.92,958.96 L1745.53,959.80 L1744.13,960.62 L1742.72,961.42 L1741.30,962.20 L1739.87,962.95 L1738.43,963.69 L1736.97,964.40 L1735.51,965.08 L1734.03,965.75 L1732.54,966.39 L1731.04,967.01 L1729.53,967.61 L1728.01,968.18 L1726.48,968.74 L1724.93,969.27 L1723.38,969.78 L1721.82,970.27 L1720.25,970.73 L1718.67,971.18 L1717.08,971.60 L1715.49,972.00 L1713.88,972.38 L1712.27,972.73 L1710.66,973.07 L1709.04,973.38 L1707.41,973.67 L1705.78,973.94 L1704.15,974.19 L1702.51,974.42 L1700.87,974.62 L1699.22,974.81 L1697.57,974.97 L1695.92,975.11 L1694.27,975.23 L1692.62,975.33 L1690.97,975.40 L1689.31,975.46 L1687.66,975.49 L1685.91,975.50 L303.09,975.50 L301.34,975.49 L299.69,975.46 L298.03,975.40 L296.38,975.33 L294.73,975.23 L293.08,975.11 L291.43,974.97 L289.78,974.81 L288.13,974.62 L286.49,974.42 L284.85,974.19 L283.22,973.94 L281.59,973.67 L279.96,973.38 L278.34,973.07 L276.73,972.73 L275.12,972.38 L273.51,972.00 L271.92,971.60 L270.33,971.18 L268.75,970.73 L267.18,970.27 L265.62,969.78 L264.07,969.27 L262.52,968.74 L260.99,968.18 L259.47,967.61 L257.96,967.01 L256.46,966.39 L254.97,965.75 L253.49,965.08 L252.03,964.40 L250.57,963.69 L249.13,962.95 L247.70,962.20 L246.28,961.42 L244.87,960.62 L243.47,959.80 L242.08,958.96 L240.70,958.09 L239.33,957.21 L237.98,956.30 L236.63,955.37 L235.29,954.43 L233.96,953.46 L232.64,952.47 L231.33,951.46 L230.03,950.44 L228.73,949.40 L227.45,948.34 L226.17,947.26 L224.90,946.17 L223.64,945.07 L222.38,943.95 L221.14,942.81 L219.90,941.67 L218.67,940.51 L217.45,939.34 L216.24,938.16 L215.04,936.96 L213.84,935.76 L212.66,934.55 L211.49,933.33 L210.33,932.10 L209.19,930.86 L208.05,929.62 L206.93,928.36 L205.83,927.10 L204.74,925.83 L203.66,924.55 L202.60,923.27 L201.56,921.97 L200.54,920.67 L199.53,919.36 L198.54,918.04 L197.57,916.71 L196.63,915.37 L195.70,914.02 L194.79,912.67 L193.91,911.30 L193.04,909.92 L192.20,908.53 L191.38,907.13 L190.58,905.72 L189.80,904.30 L189.05,902.87 L188.31,901.43 L187.60,899.97 L186.92,898.51 L186.25,897.03 L185.61,895.54 L184.99,894.04 L184.39,892.53 L183.82,891.01 L183.26,889.48 L182.73,887.93 L182.22,886.38 L181.73,884.82 L181.27,883.25 L180.82,881.67 L180.40,880.08 L180.00,878.49 L179.62,876.88 L179.27,875.27 L178.93,873.66 L178.62,872.04 L178.33,870.41 L178.06,868.78 L177.81,867.15 L177.58,865.51 L177.38,863.87 L177.19,862.22 L177.03,860.57 L176.89,858.92 L176.77,857.27 L176.67,855.62 L176.60,853.97 L176.54,852.31 L176.51,850.66 L176.50,848.91 Z" fill="url(#bg)"/>
<g clip-path="url(#inner)">
<rect x="170" y="60" width="1650" height="920" fill="url(#shade)"/>
<g filter="url(#b1)">
<polygon points="311,470 689,412 764,430 383,519" fill="#56657f" fill-opacity="0.08"/>
<polygon points="311,470 383,519 380,548 328,514" fill="#56657f" fill-opacity="0.17"/>
<polygon points="383,519 764,430 762,458 440,545 380,548" fill="#56657f" fill-opacity="0.21"/>
<path d="M311,470 L383,519 L764,430" fill="none" stroke="#ffffff" stroke-opacity="0.16" stroke-width="1.6"/>
<polygon points="272,536 330,516 380,548 440,545 742,527 700,560 610,600 300,600" fill="#56657f" fill-opacity="0.11"/>
<polygon points="272,536 300,600 312,640 288,592" fill="#56657f" fill-opacity="0.17"/>
<polygon points="300,600 610,600 612,642 312,640" fill="#56657f" fill-opacity="0.19"/>
<polygon points="610,600 742,527 740,575 612,642" fill="#56657f" fill-opacity="0.23"/>
<path d="M272,536 L300,600 L610,600 L742,527" fill="none" stroke="#ffffff" stroke-opacity="0.16" stroke-width="1.6"/>
<polygon points="223,606 290,594 312,640 612,642 760,625 800,650 700,680 520,672 370,650" fill="#56657f" fill-opacity="0.1"/>
<polygon points="223,606 370,650 365,705 250,690" fill="#56657f" fill-opacity="0.16"/>
<polygon points="370,650 520,672 525,725 365,705" fill="#56657f" fill-opacity="0.18"/>
<polygon points="520,672 700,680 790,650 780,715 650,722 530,725" fill="#56657f" fill-opacity="0.2"/>
<path d="M223,606 L370,650 L520,672 L700,680 L800,650" fill="none" stroke="#ffffff" stroke-opacity="0.16" stroke-width="1.6"/>
<polygon points="236,678 250,690 365,705 525,725 650,722 640,745 520,800 300,790 255,740" fill="#56657f" fill-opacity="0.14"/>
</g>
<g filter="url(#b1)">
<defs><linearGradient id="bargrad" gradientUnits="userSpaceOnUse" x1="0" y1="150" x2="0" y2="790"><stop offset="0" stop-color="#283c52" stop-opacity="0.20"/><stop offset="0.6" stop-color="#283c52" stop-opacity="0.28"/><stop offset="1" stop-color="#283c52" stop-opacity="0.29"/></linearGradient></defs>
<path d="M795,167 Q799,153 976,151.5 Q1154,153 1158,167 L1157,208 Q1156,216 1150,222 L1151,335 Q1158,345 1151,355 L1151,520 Q1157,530 1151,540 L1150,752 Q1150,792 976,792 Q808,792 808,752 L804,540 Q797,530 804,520 L803,355 Q796,345 803,335 L803,222 Q797,216 796,208 Z" fill="url(#bargrad)"/>
<path d="M797,168 Q976,182 1156,168" fill="none" stroke="#dfe7f0" stroke-opacity="0.10" stroke-width="3"/>
<path d="M798,210 Q976,224 1155,210" fill="none" stroke="#dfe7f0" stroke-opacity="0.22" stroke-width="2.5"/>
<path d="M803,345 Q976,372 1151,345" fill="none" stroke="#cfd9e6" stroke-opacity="0.14" stroke-width="4"/>
<path d="M804,530 Q976,558 1151,530" fill="none" stroke="#cfd9e6" stroke-opacity="0.10" stroke-width="4"/>
<ellipse cx="976" cy="466" rx="103" ry="70" fill="#c5d2e3" fill-opacity="0.27"/>
<g fill="#3d4f72" fill-opacity="0.35">
<path fill-rule="evenodd" d="M892,466 A33,34 0 1 0 958,466 A33,34 0 1 0 892,466 Z M912,466 A13,19 0 1 1 938,466 A13,19 0 1 1 912,466 Z"/>
<polygon points="970,434.5 990,433.5 990,499.3 970,500"/>
<polygon points="1004.2,433.5 1024,432.5 1024,483 1054.6,480.5 1054.6,495.5 1004.2,499.5"/>
</g>
</g>
<clipPath id="pclip"><polygon points="1100,100 1600,100 1600,538 1566,543 1157,603 1100,640"/></clipPath>
<g filter="url(#b1)" clip-path="url(#pclip)">
<path d="M1213,205 A32.5,6.5 0 0 1 1278,205 L1278,560 L1213,560 Z" fill="#2e3452" fill-opacity="0.17"/>
<ellipse cx="1245.5" cy="205" rx="27.9" ry="5.2" fill="#1c2748" fill-opacity="0.12"/>
<path d="M1159,298 A36.5,7.300000000000001 0 0 1 1232,298 L1232,620 L1159,620 Z" fill="#2e3452" fill-opacity="0.19"/>
<ellipse cx="1195.5" cy="298" rx="31.4" ry="5.8" fill="#1c2748" fill-opacity="0.12"/>
<path d="M1274,323 A50.5,10.100000000000001 0 0 1 1375,323 L1375,600 L1274,600 Z" fill="#2e3452" fill-opacity="0.17"/>
<ellipse cx="1324.5" cy="323" rx="43.4" ry="8.1" fill="#1c2748" fill-opacity="0.12"/>
<path d="M1383,356 A23.5,4.7 0 0 1 1430,356 L1430,560 L1383,560 Z" fill="#2e3452" fill-opacity="0.15"/>
<ellipse cx="1406.5" cy="356" rx="20.2" ry="3.8" fill="#1c2748" fill-opacity="0.12"/>
<path d="M1437.5,413 A27.5,5.5 0 0 1 1492.5,413 L1492.5,600 L1437.5,600 Z" fill="#2e3452" fill-opacity="0.17"/>
<ellipse cx="1465.0" cy="413" rx="23.6" ry="4.4" fill="#1c2748" fill-opacity="0.12"/>
<path d="M1234,440 A48.0,9.600000000000001 0 0 1 1330,440 L1330,640 L1234,640 Z" fill="#2e3452" fill-opacity="0.12"/>
<ellipse cx="1282.0" cy="440" rx="41.3" ry="7.7" fill="#1c2748" fill-opacity="0.12"/>
<path d="M1332,502 A67.75,13.55 0 0 1 1467.5,502 L1467.5,640 L1332,640 Z" fill="#2e3452" fill-opacity="0.13"/>
<ellipse cx="1399.75" cy="502" rx="58.3" ry="10.8" fill="#1c2748" fill-opacity="0.12"/>
</g>
<g filter="url(#b1)">
<polygon points="1126,680.4 1238.8,751.3 1186.7,830.4 1165.8,836.7 1070,765.8" fill="#64553c" fill-opacity="0.12"/>
<polygon points="1238.8,751.3 1322,753.3 1322,798.3 1180.4,838.8 1186.7,830.4" fill="#1e343c" fill-opacity="0.2"/>
<polygon points="1157.5,603.3 1563.8,542.9 1667.9,578.3 1245,642.9" fill="#746444" fill-opacity="0.15"/>
<polygon points="1245,642.9 1667.9,578.3 1699.2,667.9 1236.7,753.3" fill="#1e343c" fill-opacity="0.24"/>
<polygon points="1157.5,603.3 1245,642.9 1238.8,751.3 1126,680.4" fill="#64553c" fill-opacity="0.15"/>
<polygon points="1322,753.3 1700,666.7 1752,713.8 1322,798.3" fill="#1e343c" fill-opacity="0.27"/>
<polygon points="1322,798.3 1752,713.8 1784.6,807.5 1290.8,930.4" fill="#1e343c" fill-opacity="0.33"/>
<polygon points="1180.4,838.8 1322,798.3 1290.8,930.4 1236.7,905.4" fill="#1e343c" fill-opacity="0.18"/>
<path d="M1245,643 L1668,578.5" stroke="#9fb4cc" stroke-opacity="0.18" stroke-width="2" fill="none"/>
<path d="M1322,798.5 L1752,714" stroke="#9fb4cc" stroke-opacity="0.15" stroke-width="2" fill="none"/>
</g>
<defs><pattern id="kern" width="12" height="13" patternUnits="userSpaceOnUse" patternTransform="rotate(-18)"><rect width="12" height="13" fill="#7288ae" fill-opacity="0.16"/><ellipse cx="6" cy="6.5" rx="5.4" ry="6" fill="#a7b6a6" fill-opacity="0.40"/></pattern></defs>
<g filter="url(#b1)">
<path d="M310,795 Q350,760 400,748 Q440,760 420,800 Q380,830 330,825 Z" fill="#7f9488" fill-opacity="0.22"/>
<path d="M805,690 Q850,690 862,705 Q868,722 850,728 Q825,722 812,715 Z" fill="#4f7068" fill-opacity="0.45"/>
<mask id="bm" maskUnits="userSpaceOnUse" x="300" y="650" width="700" height="300"><rect x="300" y="650" width="700" height="300" fill="#fff"/><path d="M458.9,865.4 C461.2,858.3 466.8,847.7 478.3,837.1 C489.8,826.5 507.8,812.3 527.9,801.7 C548.0,791.1 569.3,783.3 598.8,773.3 C628.3,763.3 672.5,749.5 705.0,741.5 C737.5,733.5 767.5,728.8 793.5,725.5 C819.5,722.2 845.4,720.5 860.8,722.0 C876.1,723.5 880.9,727.0 885.6,734.4 C890.3,741.8 890.4,756.9 889.2,766.3 C888.0,775.7 891.5,781.6 878.5,791.0 C865.5,800.4 840.2,811.7 811.3,822.9 C782.4,834.1 737.5,847.7 705.0,858.3 C672.5,868.9 643.1,880.2 616.5,886.7 C589.9,893.2 566.3,896.1 545.6,897.3 C524.9,898.5 506.1,896.8 492.5,893.8 C478.9,890.8 469.8,884.3 464.2,879.6 C458.6,874.9 456.5,872.5 458.9,865.4 Z" fill="#000"/></mask>
<g mask="url(#bm)">
<path d="M382.7,791.0 C386.8,782.1 403.4,763.5 421.7,752.0 C440.0,740.5 463.0,730.8 492.5,722.0 C522.0,713.2 563.4,704.6 598.8,699.0 C634.2,693.4 674.3,690.4 705.0,688.3 C735.7,686.2 765.3,685.4 783.0,686.6 C800.7,687.8 805.5,690.8 811.0,695.4 C816.5,700.0 819.5,706.6 816.0,714.0 C812.5,721.4 809.3,730.7 790.0,740.0 C770.7,749.3 731.7,760.0 700.0,770.0 C668.3,780.0 629.9,793.0 600.0,800.0 C570.1,807.0 538.7,809.3 520.8,812.0 C502.9,814.7 506.1,815.4 492.5,816.0 C478.9,816.6 455.3,817.6 439.4,815.8 C423.5,814.0 406.3,809.3 396.9,805.2 C387.4,801.1 378.6,799.9 382.7,791.0 Z" fill="#9aac98" fill-opacity="0.38"/>
<path d="M382.7,791.0 C386.8,782.1 403.4,763.5 421.7,752.0 C440.0,740.5 463.0,730.8 492.5,722.0 C522.0,713.2 563.4,704.6 598.8,699.0 C634.2,693.4 674.3,690.4 705.0,688.3 C735.7,686.2 765.3,685.4 783.0,686.6 C800.7,687.8 805.5,690.8 811.0,695.4 C816.5,700.0 819.5,706.6 816.0,714.0 C812.5,721.4 809.3,730.7 790.0,740.0 C770.7,749.3 731.7,760.0 700.0,770.0 C668.3,780.0 629.9,793.0 600.0,800.0 C570.1,807.0 538.7,809.3 520.8,812.0 C502.9,814.7 506.1,815.4 492.5,816.0 C478.9,816.6 455.3,817.6 439.4,815.8 C423.5,814.0 406.3,809.3 396.9,805.2 C387.4,801.1 378.6,799.9 382.7,791.0 Z" fill="url(#kern)"/>
</g>
<path d="M470,846 Q500,812 598.8,775 Q705,742 793.5,727 Q840,720 870,724" fill="none" stroke="#5a6b7c" stroke-opacity="0.30" stroke-width="5"/>
<path d="M458.9,865.4 C461.2,858.3 466.8,847.7 478.3,837.1 C489.8,826.5 507.8,812.3 527.9,801.7 C548.0,791.1 569.3,783.3 598.8,773.3 C628.3,763.3 672.5,749.5 705.0,741.5 C737.5,733.5 767.5,728.8 793.5,725.5 C819.5,722.2 845.4,720.5 860.8,722.0 C876.1,723.5 880.9,727.0 885.6,734.4 C890.3,741.8 890.4,756.9 889.2,766.3 C888.0,775.7 891.5,781.6 878.5,791.0 C865.5,800.4 840.2,811.7 811.3,822.9 C782.4,834.1 737.5,847.7 705.0,858.3 C672.5,868.9 643.1,880.2 616.5,886.7 C589.9,893.2 566.3,896.1 545.6,897.3 C524.9,898.5 506.1,896.8 492.5,893.8 C478.9,890.8 469.8,884.3 464.2,879.6 C458.6,874.9 456.5,872.5 458.9,865.4 Z" fill="#8f9d86" fill-opacity="0.52"/>
<path d="M458.9,865.4 C461.2,858.3 466.8,847.7 478.3,837.1 C489.8,826.5 507.8,812.3 527.9,801.7 C548.0,791.1 569.3,783.3 598.8,773.3 C628.3,763.3 672.5,749.5 705.0,741.5 C737.5,733.5 767.5,728.8 793.5,725.5 C819.5,722.2 845.4,720.5 860.8,722.0 C876.1,723.5 880.9,727.0 885.6,734.4 C890.3,741.8 890.4,756.9 889.2,766.3 C888.0,775.7 891.5,781.6 878.5,791.0 C865.5,800.4 840.2,811.7 811.3,822.9 C782.4,834.1 737.5,847.7 705.0,858.3 C672.5,868.9 643.1,880.2 616.5,886.7 C589.9,893.2 566.3,896.1 545.6,897.3 C524.9,898.5 506.1,896.8 492.5,893.8 C478.9,890.8 469.8,884.3 464.2,879.6 C458.6,874.9 456.5,872.5 458.9,865.4 Z" fill="url(#kern)"/>
</g>
<g filter="url(#b1)" fill="#27365a">
<ellipse cx="988" cy="893" rx="56" ry="36" fill-opacity="0.11"/>
<ellipse cx="952" cy="883" rx="10.5" ry="6.2" transform="rotate(19 952 883)" fill-opacity="0.26"/>
<ellipse cx="1012" cy="872" rx="10.5" ry="6.2" transform="rotate(-16 1012 872)" fill-opacity="0.26"/>
<ellipse cx="966" cy="892" rx="10.5" ry="6.2" transform="rotate(40 966 892)" fill-opacity="0.26"/>
<ellipse cx="1006" cy="922" rx="10.5" ry="6.2" transform="rotate(17 1006 922)" fill-opacity="0.26"/>
<ellipse cx="1014" cy="904" rx="10.5" ry="6.2" transform="rotate(-35 1014 904)" fill-opacity="0.26"/>
<ellipse cx="952" cy="912" rx="10.5" ry="6.2" transform="rotate(17 952 912)" fill-opacity="0.26"/>
<ellipse cx="952" cy="871" rx="10.5" ry="6.2" transform="rotate(-20 952 871)" fill-opacity="0.26"/>
<ellipse cx="1011" cy="865" rx="10.5" ry="6.2" transform="rotate(-32 1011 865)" fill-opacity="0.26"/>
<ellipse cx="992" cy="900" rx="10.5" ry="6.2" transform="rotate(-10 992 900)" fill-opacity="0.26"/>
<ellipse cx="996" cy="863" rx="10.5" ry="6.2" transform="rotate(1 996 863)" fill-opacity="0.26"/>
<ellipse cx="1009" cy="872" rx="10.5" ry="6.2" transform="rotate(26 1009 872)" fill-opacity="0.26"/>
<ellipse cx="981" cy="910" rx="10.5" ry="6.2" transform="rotate(-40 981 910)" fill-opacity="0.26"/>
<ellipse cx="941" cy="902" rx="10.5" ry="6.2" transform="rotate(-5 941 902)" fill-opacity="0.26"/>
<ellipse cx="954" cy="885" rx="10.5" ry="6.2" transform="rotate(-30 954 885)" fill-opacity="0.26"/>
<ellipse cx="968" cy="924" rx="10.5" ry="6.2" transform="rotate(-11 968 924)" fill-opacity="0.26"/>
<ellipse cx="1029" cy="898" rx="10.5" ry="6.2" transform="rotate(32 1029 898)" fill-opacity="0.26"/>
<ellipse cx="945" cy="914" rx="10.5" ry="6.2" transform="rotate(-3 945 914)" fill-opacity="0.26"/>
<ellipse cx="1022" cy="887" rx="10.5" ry="6.2" transform="rotate(-40 1022 887)" fill-opacity="0.26"/>
<ellipse cx="1010" cy="886" rx="10.5" ry="6.2" transform="rotate(-34 1010 886)" fill-opacity="0.26"/>
<ellipse cx="1027" cy="890" rx="10.5" ry="6.2" transform="rotate(10 1027 890)" fill-opacity="0.26"/>
<ellipse cx="954" cy="883" rx="10.5" ry="6.2" transform="rotate(-15 954 883)" fill-opacity="0.26"/>
<ellipse cx="981" cy="929" rx="10.5" ry="6.2" transform="rotate(-29 981 929)" fill-opacity="0.26"/>
<ellipse cx="1019" cy="895" rx="10.5" ry="6.2" transform="rotate(12 1019 895)" fill-opacity="0.26"/>
<ellipse cx="1027" cy="917" rx="10.5" ry="6.2" transform="rotate(-9 1027 917)" fill-opacity="0.26"/>
<ellipse cx="1038" cy="895" rx="10.5" ry="6.2" transform="rotate(19 1038 895)" fill-opacity="0.26"/>
<ellipse cx="1012" cy="926" rx="10.5" ry="6.2" transform="rotate(31 1012 926)" fill-opacity="0.26"/>
<ellipse cx="965" cy="892" rx="10.5" ry="6.2" transform="rotate(-24 965 892)" fill-opacity="0.26"/>
<ellipse cx="961" cy="910" rx="10.5" ry="6.2" transform="rotate(10 961 910)" fill-opacity="0.26"/>
<ellipse cx="997" cy="917" rx="10.5" ry="6.2" transform="rotate(-6 997 917)" fill-opacity="0.26"/>
<ellipse cx="1044" cy="887" rx="10.5" ry="6.2" transform="rotate(35 1044 887)" fill-opacity="0.26"/>
<ellipse cx="1011" cy="879" rx="10.5" ry="6.2" transform="rotate(-14 1011 879)" fill-opacity="0.26"/>
<ellipse cx="1011" cy="893" rx="10.5" ry="6.2" transform="rotate(37 1011 893)" fill-opacity="0.26"/>
<ellipse cx="1026" cy="912" rx="10.5" ry="6.2" transform="rotate(-22 1026 912)" fill-opacity="0.26"/>
<ellipse cx="987" cy="910" rx="10.5" ry="6.2" transform="rotate(38 987 910)" fill-opacity="0.26"/>
<ellipse cx="979" cy="914" rx="10.5" ry="6.2" transform="rotate(-31 979 914)" fill-opacity="0.26"/>
<ellipse cx="991" cy="902" rx="10.5" ry="6.2" transform="rotate(-9 991 902)" fill-opacity="0.26"/>
<ellipse cx="985" cy="896" rx="10.5" ry="6.2" transform="rotate(39 985 896)" fill-opacity="0.26"/>
<ellipse cx="1025" cy="886" rx="10.5" ry="6.2" transform="rotate(21 1025 886)" fill-opacity="0.26"/>
<ellipse cx="1025" cy="921" rx="10.5" ry="6.2" transform="rotate(9 1025 921)" fill-opacity="0.26"/>
<ellipse cx="1001" cy="905" rx="10.5" ry="6.2" transform="rotate(-11 1001 905)" fill-opacity="0.26"/>
<ellipse cx="988" cy="930" rx="10.5" ry="6.2" transform="rotate(-16 988 930)" fill-opacity="0.26"/>
<ellipse cx="974" cy="883" rx="10.5" ry="6.2" transform="rotate(30 974 883)" fill-opacity="0.26"/>
<ellipse cx="1010" cy="888" rx="10.5" ry="6.2" transform="rotate(21 1010 888)" fill-opacity="0.26"/>
<ellipse cx="948" cy="908" rx="10.5" ry="6.2" transform="rotate(-27 948 908)" fill-opacity="0.26"/>
<ellipse cx="972" cy="892" rx="10.5" ry="6.2" transform="rotate(-8 972 892)" fill-opacity="0.26"/>
<ellipse cx="981" cy="876" rx="10.5" ry="6.2" transform="rotate(-8 981 876)" fill-opacity="0.26"/>
<ellipse cx="1018" cy="879" rx="10.5" ry="6.2" transform="rotate(22 1018 879)" fill-opacity="0.26"/>
<ellipse cx="1001" cy="911" rx="10.5" ry="6.2" transform="rotate(-32 1001 911)" fill-opacity="0.26"/>
<ellipse cx="970" cy="895" rx="10.5" ry="6.2" transform="rotate(38 970 895)" fill-opacity="0.26"/>
<ellipse cx="979" cy="924" rx="10.5" ry="6.2" transform="rotate(-14 979 924)" fill-opacity="0.26"/>
<ellipse cx="1035" cy="908" rx="10.5" ry="6.2" transform="rotate(12 1035 908)" fill-opacity="0.26"/>
<ellipse cx="1023" cy="903" rx="10.5" ry="6.2" transform="rotate(-18 1023 903)" fill-opacity="0.26"/>
<ellipse cx="960" cy="889" rx="10.5" ry="6.2" transform="rotate(-24 960 889)" fill-opacity="0.26"/>
<ellipse cx="998" cy="901" rx="10.5" ry="6.2" transform="rotate(17 998 901)" fill-opacity="0.26"/>
<ellipse cx="954" cy="858" rx="10.5" ry="6.2" transform="rotate(26 954 858)" fill-opacity="0.26"/>
<ellipse cx="1017" cy="916" rx="10.5" ry="6.2" transform="rotate(-36 1017 916)" fill-opacity="0.26"/>
<ellipse cx="930" cy="899" rx="10.5" ry="6.2" transform="rotate(5 930 899)" fill-opacity="0.26"/>
<ellipse cx="1037" cy="885" rx="10.5" ry="6.2" transform="rotate(-38 1037 885)" fill-opacity="0.26"/>
<ellipse cx="1029" cy="907" rx="10.5" ry="6.2" transform="rotate(-32 1029 907)" fill-opacity="0.26"/>
<ellipse cx="966" cy="925" rx="10.5" ry="6.2" transform="rotate(-31 966 925)" fill-opacity="0.26"/>
<ellipse cx="820.5" cy="896.5" rx="11" ry="6.5" transform="rotate(-26 820.5 896.5)" fill-opacity="0.36"/>
<ellipse cx="846.7" cy="899.7" rx="11" ry="6.5" transform="rotate(22 846.7 899.7)" fill-opacity="0.36"/>
<ellipse cx="866.4" cy="896.5" rx="11" ry="6.5" transform="rotate(34 866.4 896.5)" fill-opacity="0.36"/>
<ellipse cx="876" cy="878" rx="11" ry="6.5" transform="rotate(12 876 878)" fill-opacity="0.36"/>
<ellipse cx="900" cy="859" rx="11" ry="6.5" transform="rotate(-30 900 859)" fill-opacity="0.36"/>
<ellipse cx="896" cy="871" rx="11" ry="6.5" transform="rotate(-19 896 871)" fill-opacity="0.36"/>
<ellipse cx="911" cy="904" rx="11" ry="6.5" transform="rotate(8 911 904)" fill-opacity="0.36"/>
<ellipse cx="922" cy="891" rx="11" ry="6.5" transform="rotate(10 922 891)" fill-opacity="0.36"/>
<ellipse cx="1047" cy="846" rx="11" ry="6.5" transform="rotate(-25 1047 846)" fill-opacity="0.36"/>
<ellipse cx="1083" cy="850.5" rx="11" ry="6.5" transform="rotate(25 1083 850.5)" fill-opacity="0.36"/>
<ellipse cx="1107" cy="868" rx="11" ry="6.5" transform="rotate(-26 1107 868)" fill-opacity="0.36"/>
<ellipse cx="1099.5" cy="880" rx="11" ry="6.5" transform="rotate(18 1099.5 880)" fill-opacity="0.36"/>
<ellipse cx="1077.6" cy="869" rx="11" ry="6.5" transform="rotate(-32 1077.6 869)" fill-opacity="0.36"/>
<ellipse cx="1073" cy="884.4" rx="11" ry="6.5" transform="rotate(28 1073 884.4)" fill-opacity="0.36"/>
<ellipse cx="1066.6" cy="899.7" rx="11" ry="6.5" transform="rotate(-34 1066.6 899.7)" fill-opacity="0.36"/>
<ellipse cx="1076.5" cy="922.7" rx="11" ry="6.5" transform="rotate(13 1076.5 922.7)" fill-opacity="0.36"/>
</g>
<path d="M176.50,194.09 L176.51,192.34 L176.54,190.69 L176.60,189.03 L176.67,187.38 L176.77,185.73 L176.89,184.08 L177.03,182.43 L177.19,180.78 L177.38,179.13 L177.58,177.49 L177.81,175.85 L178.06,174.22 L178.33,172.59 L178.62,170.96 L178.93,169.34 L179.27,167.73 L179.62,166.12 L180.00,164.51 L180.40,162.92 L180.82,161.33 L181.27,159.75 L181.73,158.18 L182.22,156.62 L182.73,155.07 L183.26,153.52 L183.82,151.99 L184.39,150.47 L184.99,148.96 L185.61,147.46 L186.25,145.97 L186.92,144.49 L187.60,143.03 L188.31,141.57 L189.05,140.13 L189.80,138.70 L190.58,137.28 L191.38,135.87 L192.20,134.47 L193.04,133.08 L193.91,131.70 L194.79,130.33 L195.70,128.98 L196.63,127.63 L197.57,126.29 L198.54,124.96 L199.53,123.64 L200.54,122.33 L201.56,121.03 L202.60,119.73 L203.66,118.45 L204.74,117.17 L205.83,115.90 L206.93,114.64 L208.05,113.38 L209.19,112.14 L210.33,110.90 L211.49,109.67 L212.66,108.45 L213.84,107.24 L215.04,106.04 L216.24,104.84 L217.45,103.66 L218.67,102.49 L219.90,101.33 L221.14,100.19 L222.38,99.05 L223.64,97.93 L224.90,96.83 L226.17,95.74 L227.45,94.66 L228.73,93.60 L230.03,92.56 L231.33,91.54 L232.64,90.53 L233.96,89.54 L235.29,88.57 L236.63,87.63 L237.98,86.70 L239.33,85.79 L240.70,84.91 L242.08,84.04 L243.47,83.20 L244.87,82.38 L246.28,81.58 L247.70,80.80 L249.13,80.05 L250.57,79.31 L252.03,78.60 L253.49,77.92 L254.97,77.25 L256.46,76.61 L257.96,75.99 L259.47,75.39 L260.99,74.82 L262.52,74.26 L264.07,73.73 L265.62,73.22 L267.18,72.73 L268.75,72.27 L270.33,71.82 L271.92,71.40 L273.51,71.00 L275.12,70.62 L276.73,70.27 L278.34,69.93 L279.96,69.62 L281.59,69.33 L283.22,69.06 L284.85,68.81 L286.49,68.58 L288.13,68.38 L289.78,68.19 L291.43,68.03 L293.08,67.89 L294.73,67.77 L296.38,67.67 L298.03,67.60 L299.69,67.54 L301.34,67.51 L303.09,67.50 L1685.91,67.50 L1687.66,67.51 L1689.31,67.54 L1690.97,67.60 L1692.62,67.67 L1694.27,67.77 L1695.92,67.89 L1697.57,68.03 L1699.22,68.19 L1700.87,68.38 L1702.51,68.58 L1704.15,68.81 L1705.78,69.06 L1707.41,69.33 L1709.04,69.62 L1710.66,69.93 L1712.27,70.27 L1713.88,70.62 L1715.49,71.00 L1717.08,71.40 L1718.67,71.82 L1720.25,72.27 L1721.82,72.73 L1723.38,73.22 L1724.93,73.73 L1726.48,74.26 L1728.01,74.82 L1729.53,75.39 L1731.04,75.99 L1732.54,76.61 L1734.03,77.25 L1735.51,77.92 L1736.97,78.60 L1738.43,79.31 L1739.87,80.05 L1741.30,80.80 L1742.72,81.58 L1744.13,82.38 L1745.53,83.20 L1746.92,84.04 L1748.30,84.91 L1749.67,85.79 L1751.02,86.70 L1752.37,87.63 L1753.71,88.57 L1755.04,89.54 L1756.36,90.53 L1757.67,91.54 L1758.97,92.56 L1760.27,93.60 L1761.55,94.66 L1762.83,95.74 L1764.10,96.83 L1765.36,97.93 L1766.62,99.05 L1767.86,100.19 L1769.10,101.33 L1770.33,102.49 L1771.55,103.66 L1772.76,104.84 L1773.96,106.04 L1775.16,107.24 L1776.34,108.45 L1777.51,109.67 L1778.67,110.90 L1779.81,112.14 L1780.95,113.38 L1782.07,114.64 L1783.17,115.90 L1784.26,117.17 L1785.34,118.45 L1786.40,119.73 L1787.44,121.03 L1788.46,122.33 L1789.47,123.64 L1790.46,124.96 L1791.43,126.29 L1792.37,127.63 L1793.30,128.98 L1794.21,130.33 L1795.09,131.70 L1795.96,133.08 L1796.80,134.47 L1797.62,135.87 L1798.42,137.28 L1799.20,138.70 L1799.95,140.13 L1800.69,141.57 L1801.40,143.03 L1802.08,144.49 L1802.75,145.97 L1803.39,147.46 L1804.01,148.96 L1804.61,150.47 L1805.18,151.99 L1805.74,153.52 L1806.27,155.07 L1806.78,156.62 L1807.27,158.18 L1807.73,159.75 L1808.18,161.33 L1808.60,162.92 L1809.00,164.51 L1809.38,166.12 L1809.73,167.73 L1810.07,169.34 L1810.38,170.96 L1810.67,172.59 L1810.94,174.22 L1811.19,175.85 L1811.42,177.49 L1811.62,179.13 L1811.81,180.78 L1811.97,182.43 L1812.11,184.08 L1812.23,185.73 L1812.33,187.38 L1812.40,189.03 L1812.46,190.69 L1812.49,192.34 L1812.50,194.09 L1812.50,848.91 L1812.49,850.66 L1812.46,852.31 L1812.40,853.97 L1812.33,855.62 L1812.23,857.27 L1812.11,858.92 L1811.97,860.57 L1811.81,862.22 L1811.62,863.87 L1811.42,865.51 L1811.19,867.15 L1810.94,868.78 L1810.67,870.41 L1810.38,872.04 L1810.07,873.66 L1809.73,875.27 L1809.38,876.88 L1809.00,878.49 L1808.60,880.08 L1808.18,881.67 L1807.73,883.25 L1807.27,884.82 L1806.78,886.38 L1806.27,887.93 L1805.74,889.48 L1805.18,891.01 L1804.61,892.53 L1804.01,894.04 L1803.39,895.54 L1802.75,897.03 L1802.08,898.51 L1801.40,899.97 L1800.69,901.43 L1799.95,902.87 L1799.20,904.30 L1798.42,905.72 L1797.62,907.13 L1796.80,908.53 L1795.96,909.92 L1795.09,911.30 L1794.21,912.67 L1793.30,914.02 L1792.37,915.37 L1791.43,916.71 L1790.46,918.04 L1789.47,919.36 L1788.46,920.67 L1787.44,921.97 L1786.40,923.27 L1785.34,924.55 L1784.26,925.83 L1783.17,927.10 L1782.07,928.36 L1780.95,929.62 L1779.81,930.86 L1778.67,932.10 L1777.51,933.33 L1776.34,934.55 L1775.16,935.76 L1773.96,936.96 L1772.76,938.16 L1771.55,939.34 L1770.33,940.51 L1769.10,941.67 L1767.86,942.81 L1766.62,943.95 L1765.36,945.07 L1764.10,946.17 L1762.83,947.26 L1761.55,948.34 L1760.27,949.40 L1758.97,950.44 L1757.67,951.46 L1756.36,952.47 L1755.04,953.46 L1753.71,954.43 L1752.37,955.37 L1751.02,956.30 L1749.67,957.21 L1748.30,958.09 L1746.92,958.96 L1745.53,959.80 L1744.13,960.62 L1742.72,961.42 L1741.30,962.20 L1739.87,962.95 L1738.43,963.69 L1736.97,964.40 L1735.51,965.08 L1734.03,965.75 L1732.54,966.39 L1731.04,967.01 L1729.53,967.61 L1728.01,968.18 L1726.48,968.74 L1724.93,969.27 L1723.38,969.78 L1721.82,970.27 L1720.25,970.73 L1718.67,971.18 L1717.08,971.60 L1715.49,972.00 L1713.88,972.38 L1712.27,972.73 L1710.66,973.07 L1709.04,973.38 L1707.41,973.67 L1705.78,973.94 L1704.15,974.19 L1702.51,974.42 L1700.87,974.62 L1699.22,974.81 L1697.57,974.97 L1695.92,975.11 L1694.27,975.23 L1692.62,975.33 L1690.97,975.40 L1689.31,975.46 L1687.66,975.49 L1685.91,975.50 L303.09,975.50 L301.34,975.49 L299.69,975.46 L298.03,975.40 L296.38,975.33 L294.73,975.23 L293.08,975.11 L291.43,974.97 L289.78,974.81 L288.13,974.62 L286.49,974.42 L284.85,974.19 L283.22,973.94 L281.59,973.67 L279.96,973.38 L278.34,973.07 L276.73,972.73 L275.12,972.38 L273.51,972.00 L271.92,971.60 L270.33,971.18 L268.75,970.73 L267.18,970.27 L265.62,969.78 L264.07,969.27 L262.52,968.74 L260.99,968.18 L259.47,967.61 L257.96,967.01 L256.46,966.39 L254.97,965.75 L253.49,965.08 L252.03,964.40 L250.57,963.69 L249.13,962.95 L247.70,962.20 L246.28,961.42 L244.87,960.62 L243.47,959.80 L242.08,958.96 L240.70,958.09 L239.33,957.21 L237.98,956.30 L236.63,955.37 L235.29,954.43 L233.96,953.46 L232.64,952.47 L231.33,951.46 L230.03,950.44 L228.73,949.40 L227.45,948.34 L226.17,947.26 L224.90,946.17 L223.64,945.07 L222.38,943.95 L221.14,942.81 L219.90,941.67 L218.67,940.51 L217.45,939.34 L216.24,938.16 L215.04,936.96 L213.84,935.76 L212.66,934.55 L211.49,933.33 L210.33,932.10 L209.19,930.86 L208.05,929.62 L206.93,928.36 L205.83,927.10 L204.74,925.83 L203.66,924.55 L202.60,923.27 L201.56,921.97 L200.54,920.67 L199.53,919.36 L198.54,918.04 L197.57,916.71 L196.63,915.37 L195.70,914.02 L194.79,912.67 L193.91,911.30 L193.04,909.92 L192.20,908.53 L191.38,907.13 L190.58,905.72 L189.80,904.30 L189.05,902.87 L188.31,901.43 L187.60,899.97 L186.92,898.51 L186.25,897.03 L185.61,895.54 L184.99,894.04 L184.39,892.53 L183.82,891.01 L183.26,889.48 L182.73,887.93 L182.22,886.38 L181.73,884.82 L181.27,883.25 L180.82,881.67 L180.40,880.08 L180.00,878.49 L179.62,876.88 L179.27,875.27 L178.93,873.66 L178.62,872.04 L178.33,870.41 L178.06,868.78 L177.81,867.15 L177.58,865.51 L177.38,863.87 L177.19,862.22 L177.03,860.57 L176.89,858.92 L176.77,857.27 L176.67,855.62 L176.60,853.97 L176.54,852.31 L176.51,850.66 L176.50,848.91 Z" fill="none" stroke="#22c6ff" stroke-opacity="0.6" stroke-width="2.6" filter="url(#b1)"/>
</g>
<g stroke="#fff" stroke-width="5.4" stroke-linecap="round" stroke-dasharray="17.6 18.4">
<line x1="546.0" y1="263.2" x2="546.0" y2="822"/>
<line x1="718.0" y1="263.2" x2="718.0" y2="822"/>
<line x1="889.0" y1="263.2" x2="889.0" y2="822"/>
<line x1="1061.0" y1="263.2" x2="1061.0" y2="822"/>
<line x1="1232.0" y1="263.2" x2="1232.0" y2="822"/>
<line x1="1403.0" y1="263.2" x2="1403.0" y2="822"/>
<line x1="1575.0" y1="263.2" x2="1575.0" y2="822"/>
</g>
<rect x="872" y="316" width="16.5" height="28" fill="#2dba9c"/>
<rect x="888" y="358" width="754" height="28" fill="#fff" fill-opacity="0.64"/>
<rect x="881" y="439.5" width="7" height="28" fill="#2dba9c"/>
<rect x="619.6" y="481" width="267.4" height="28" fill="#fff" fill-opacity="0.64"/>
<rect x="888" y="572" width="7.2" height="28" fill="#2dba9c"/>
<rect x="632" y="614" width="258" height="28" fill="#fff" fill-opacity="0.64"/>
<rect x="888" y="713" width="356.5" height="28" fill="url(#gbar)"/>
<rect x="888" y="755" width="714" height="28" fill="#fff" fill-opacity="0.64"/>
<text transform="translate(792.93,341.47) scale(1.0119,1)" font-size="31.30" fill="#000" stroke="#000" stroke-width="0.45" stroke-linejoin="round" >-0.11</text>
<text transform="translate(1647.53,383.27) scale(1.0129,1)" font-size="30.87" fill="#000" stroke="#000" stroke-width="0.45" stroke-linejoin="round" >27.04</text>
<text transform="translate(800.32,464.07) scale(0.9876,1)" font-size="31.30" fill="#000" stroke="#000" stroke-width="0.45" stroke-linejoin="round" >-0.01</text>
<text transform="translate(535.12,505.77) scale(0.9904,1)" font-size="31.30" fill="#000" stroke="#000" stroke-width="0.45" stroke-linejoin="round" >-8.55</text>
<text transform="translate(901.22,597.48) scale(0.9859,1)" font-size="31.30" fill="#000" stroke="#000" stroke-width="0.45" stroke-linejoin="round" >0.03</text>
<text transform="translate(555.83,639.38) scale(1.0057,1)" font-size="31.30" fill="#000" stroke="#000" stroke-width="0.45" stroke-linejoin="round" >-8.18</text>
<text transform="translate(1246.42,738.48) scale(0.9724,1)" font-size="31.30" fill="#000" stroke="#000" stroke-width="0.45" stroke-linejoin="round" >10.01</text>
<text transform="translate(1629.12,780.17) scale(0.9839,1)" font-size="31.30" fill="#000" stroke="#000" stroke-width="0.45" stroke-linejoin="round" >38.22</text>
<text transform="translate(364.72,383.38) scale(0.9808,1)" font-size="27.54" fill="#000" stroke="#000" stroke-width="0.45" stroke-linejoin="round" >GOLD</text>
<text transform="translate(355.12,509.67) scale(0.9574,1)" font-size="27.54" fill="#000" stroke="#000" stroke-width="0.45" stroke-linejoin="round" >BRENT</text>
<text transform="translate(377.98,639.77) scale(1.0276,1)" font-size="26.96" fill="#000" stroke="#000" stroke-width="0.45" stroke-linejoin="round" >WTI</text>
<text transform="translate(349.96,783.52) scale(0.9382,1)" font-size="26.96" fill="#000" stroke="#000" stroke-width="0.45" stroke-linejoin="round" >COPPER</text>
<text transform="translate(505.77,899.55) scale(1.0710,1)" font-size="49.14" fill="#fff" stroke="#fff" stroke-width="0.7" stroke-linejoin="round" >-10</text>
<text transform="translate(694.47,899.55) scale(1.0544,1)" font-size="49.14" fill="#fff" stroke="#fff" stroke-width="0.7" stroke-linejoin="round" >-5</text>
<text transform="translate(874.09,899.55) scale(1.1134,1)" font-size="49.14" fill="#fff" stroke="#fff" stroke-width="0.7" stroke-linejoin="round" >0</text>
<text transform="translate(1048.13,899.55) scale(0.9493,1)" font-size="49.14" fill="#fff" stroke="#fff" stroke-width="0.7" stroke-linejoin="round" >5</text>
<text transform="translate(1205.46,899.55) scale(1.0173,1)" font-size="49.14" fill="#fff" stroke="#fff" stroke-width="0.7" stroke-linejoin="round" >10</text>
<text transform="translate(1372.25,899.55) scale(1.0100,1)" font-size="49.14" fill="#fff" stroke="#fff" stroke-width="0.7" stroke-linejoin="round" >15</text>
<text transform="translate(1545.97,899.55) scale(1.0679,1)" font-size="49.14" fill="#fff" stroke="#fff" stroke-width="0.7" stroke-linejoin="round" >20</text>
<text transform="translate(831.98,954.33) scale(1.0158,1)" font-size="36.70" fill="#000" stroke="#000" stroke-width="0.55" stroke-linejoin="round" >% Performance</text>
<text transform="translate(219.44,215.35) scale(0.9896,1)" font-size="68.34" fill="#7b7f88" stroke="#7b7f88" stroke-width="1.9" stroke-linejoin="round" >Commodities</text>
<text transform="translate(216.44,212.35) scale(0.9896,1)" font-size="68.34" fill="#000" stroke="#000" stroke-width="1.9" stroke-linejoin="round" >Commodities</text>
<circle cx="660" cy="189.7" r="30.7" fill="#05d49b"/>
<text transform="translate(726.58,199.82) scale(1.0007,1)" font-size="38.44" fill="#000" stroke="#000" stroke-width="0.55" stroke-linejoin="round" >Weekly Performance</text>
<circle cx="1178" cy="189.4" r="30.6" fill="#fff"/>
<text transform="translate(1270.37,199.22) scale(0.9876,1)" font-size="38.44" fill="#000" stroke="#000" stroke-width="0.55" stroke-linejoin="round" >YTD Performance</text>
<g stroke="#151515" stroke-width="1.15" stroke-linejoin="round">
<polygon points="389.7,322.8 399.3,322.8 402.3,333 386.3,333" fill="#ffd040"/>
<polygon points="399.3,322.8 413.7,322.8 417.3,333 402.3,333" fill="#ffb806"/>
<polygon points="390.6,334 398.4,334 394.5,343.5" fill="#ffb806"/>
<polygon points="381.7,334 391,334 394,345 378,345" fill="#ffd040"/>
<polygon points="398,334 407.7,334 410.5,345 394.8,345" fill="#ffd040"/>
<polygon points="407.7,334 421.5,334 425.3,345 410.5,345" fill="#ffa402"/>
</g>
<g stroke="#171717" stroke-width="1.25" stroke-linejoin="round">
<path d="M379.2,437.3 L379.2,466.2 A11.2,2.3 0 0 0 401.59999999999997,466.2 L401.59999999999997,437.3 Z" fill="#b9b8ad"/>
<path d="M379.2,446.6 A11.2,2.3 0 0 0 401.59999999999997,446.6" fill="none"/>
<path d="M379.2,458.8 A11.2,2.3 0 0 0 401.59999999999997,458.8" fill="none"/>
<ellipse cx="390.4" cy="437.3" rx="11.2" ry="2.3" fill="#c4c3b8"/>
<path d="M389.9,450.5 C391.09999999999997,452.7 392.79999999999995,454.1 392.79999999999995,455.9 A2.9,2.6 0 0 1 387.0,455.9 C387.0,454.1 388.7,452.7 389.9,450.5 Z" fill="#111" stroke="none"/>
<path d="M402.6,437.3 L402.6,466.2 A11.2,2.3 0 0 0 425.0,466.2 L425.0,437.3 Z" fill="#b9b8ad"/>
<path d="M402.6,446.6 A11.2,2.3 0 0 0 425.0,446.6" fill="none"/>
<path d="M402.6,458.8 A11.2,2.3 0 0 0 425.0,458.8" fill="none"/>
<ellipse cx="413.8" cy="437.3" rx="11.2" ry="2.3" fill="#c4c3b8"/>
<path d="M414.3,450.5 C415.5,452.7 417.2,454.1 417.2,455.9 A2.9,2.6 0 0 1 411.40000000000003,455.9 C411.40000000000003,454.1 413.1,452.7 414.3,450.5 Z" fill="#111" stroke="none"/>
<path d="M390,443.6 L390,472.5 A11.2,2.3 0 0 0 412.4,472.5 L412.4,443.6 Z" fill="#b9b8ad"/>
<path d="M390,452.90000000000003 A11.2,2.3 0 0 0 412.4,452.90000000000003" fill="none"/>
<path d="M390,465.1 A11.2,2.3 0 0 0 412.4,465.1" fill="none"/>
<ellipse cx="401.2" cy="443.6" rx="11.2" ry="2.3" fill="#c4c3b8"/>
<path d="M401.2,456.8 C402.4,459.0 404.09999999999997,460.40000000000003 404.09999999999997,462.2 A2.9,2.6 0 0 1 398.3,462.2 C398.3,460.40000000000003 400.0,459.0 401.2,456.8 Z" fill="#111" stroke="none"/>
</g>
<g transform="translate(368,542)" fill="#000" stroke="none">
<rect x="5" y="58.8" width="58" height="4.2"/>
<path d="M17.2,5.2 C21.3,5.6 21.6,10.5 19.8,15.5 C17.8,21.5 15.8,27.5 13.4,30.2 C10.2,30.2 9,25.5 9.9,19.3 C10.9,13 13.6,7.2 17.2,5.2 Z"/>
<rect x="10.2" y="29" width="2.4" height="24"/>
<rect x="7.8" y="52" width="5.2" height="4.8"/>
<polygon points="23.3,13.8 50.8,25.1 48,31 20.7,18.8"/>
<path d="M52.3,25.6 L56.5,27.3 L54.9,32.6 L59.2,45.6 C62.6,47 62.6,51.5 59.5,53.5 C56.5,55.4 52.8,54 52,51.3 C54.3,50 55.3,48.3 54.8,46.4 L50.6,32 Z"/>
<path d="M30.2,28.4 L30.9,24.3 Q33.5,20.6 36.4,24.3 L37.3,28.4 Z"/>
<g stroke="#000" fill="none" stroke-linecap="butt">
<path d="M31.8,30.8 L23.2,56.8" stroke-width="3.7"/>
<path d="M35.6,30.8 L42.8,56.8" stroke-width="3.7"/>
<path d="M29.8,41.6 L36.6,38" stroke-width="1.6"/>
<path d="M29.6,42.3 L38.8,47.2" stroke-width="1.6"/>
<path d="M38.8,47.2 L25,56.4" stroke-width="1.6"/>
</g>
<path d="M46.4,56.8 L48.4,43 L51.2,42 L51.8,47.5 C50.4,50.5 51.5,54 55.5,55.4 L59.8,55 L59.8,56.8 Z"/>
<circle cx="15.2" cy="15.2" r="0.9" fill="#b4bfcd"/><circle cx="16.9" cy="11.7" r="0.9" fill="#b4bfcd"/>
</g>
<rect x="374.6" y="690.3" width="54.8" height="55.1" rx="6" ry="6" fill="#000"/>
<text transform="translate(397.00,702.30) scale(0.8369,1)" font-size="10.74" fill="#a9b5c5" >29</text>
<text transform="translate(381.40,731.30) scale(0.9230,1)" font-size="33.81" font-weight="700" fill="#a9b5c5" >Cu</text>
<text transform="translate(385.00,740.70) scale(1.0245,1)" font-size="10.03" fill="#a9b5c5" >Copper</text>
<text transform="translate(884.65,115.15) scale(1.7667,1)" font-size="24.85" font-weight="700" fill="#fff" stroke="#fff" stroke-width="1.3" stroke-linejoin="round" >A</text>
<text transform="translate(916.38,115.15) scale(1.3482,1)" font-size="19.05" font-weight="700" fill="#fff" stroke="#fff" stroke-width="1.3" stroke-linejoin="round" >C</text>
<text transform="translate(937.75,115.15) scale(1.1605,1)" font-size="18.60" font-weight="700" fill="#fff" stroke="#fff" stroke-width="1.3" stroke-linejoin="round" >T</text>
<text transform="translate(953.95,115.15) scale(0.8498,1)" font-size="18.60" font-weight="700" fill="#fff" stroke="#fff" stroke-width="1.3" stroke-linejoin="round" >I</text>
<polygon points="959.7,101.7 966.6,101.7 971.6,111.2 986.4,86.9 988.5,86.9 972.6,115.8 967.4,115.8" fill="#fff"/>
<text transform="translate(987.07,115.15) scale(1.3405,1)" font-size="24.85" font-weight="700" fill="#fff" stroke="#fff" stroke-width="1.3" stroke-linejoin="round" >T</text>
<text transform="translate(1008.85,115.15) scale(1.3100,1)" font-size="18.60" font-weight="700" fill="#fff" stroke="#fff" stroke-width="1.3" stroke-linejoin="round" >R</text>
<text transform="translate(1027.06,115.15) scale(1.6290,1)" font-size="18.60" font-weight="700" fill="#fff" stroke="#fff" stroke-width="1.3" stroke-linejoin="round" >A</text>
<text transform="translate(1052.39,115.15) scale(1.3643,1)" font-size="18.60" font-weight="700" fill="#fff" stroke="#fff" stroke-width="1.3" stroke-linejoin="round" >D</text>
<text transform="translate(1074.73,115.15) scale(1.1233,1)" font-size="18.60" font-weight="700" fill="#fff" stroke="#fff" stroke-width="1.3" stroke-linejoin="round" >E</text>
<text transform="translate(1091.59,115.15) scale(1.2135,1)" font-size="19.05" font-weight="700" fill="#fff" stroke="#fff" stroke-width="1.3" stroke-linejoin="round" >S</text>
</svg></body></html>
